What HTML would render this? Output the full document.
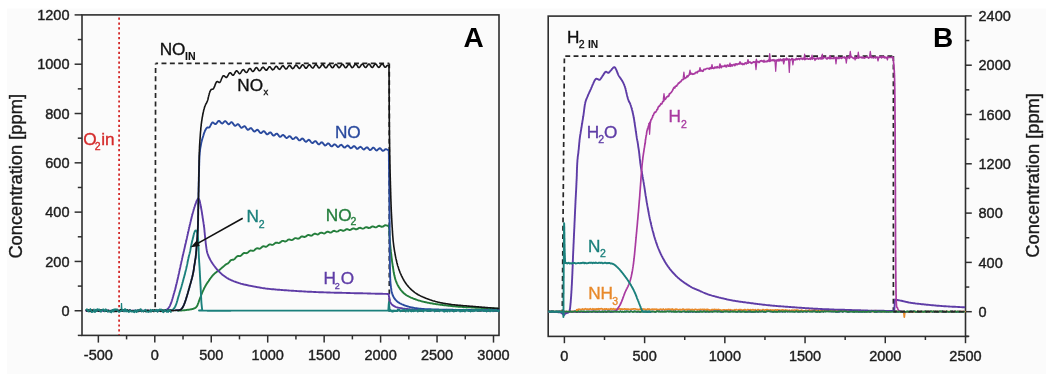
<!DOCTYPE html>
<html><head><meta charset="utf-8"><style>
html,body{margin:0;padding:0;background:#fff;}
svg{display:block;will-change:transform;}
text{font-family:"Liberation Sans",sans-serif;}
.tl{font-size:14.5px;fill:#1e1e1e;stroke:#1e1e1e;stroke-width:0.4px;}
.at{font-size:18.3px;fill:#1a1a1a;stroke:#1a1a1a;stroke-width:0.35px;}
.lb{font-size:16px;letter-spacing:1.2px;stroke-width:0.2px;}
.sub{font-size:10px;letter-spacing:0.2px;}
.sub2{font-size:11.5px;letter-spacing:0px;}
.big{font-size:28px;font-weight:bold;fill:#000;}
</style></head><body>
<svg width="1051" height="374" viewBox="0 0 1051 374">
<rect width="1051" height="374" fill="#ffffff"/>
<rect x="7" y="8.5" width="1039" height="366" fill="#fbfbfb"/>
<rect x="82" y="14.9" width="417" height="320.5" fill="none" stroke="#2e2e2e" stroke-width="1.6"/>
<line x1="77.8" y1="335.40" x2="82" y2="335.40" stroke="#2e2e2e" stroke-width="1.5"/>
<line x1="74.6" y1="310.75" x2="82" y2="310.75" stroke="#2e2e2e" stroke-width="1.5"/>
<text x="69.5" y="315.85" class="tl" text-anchor="end">0</text>
<line x1="77.8" y1="286.10" x2="82" y2="286.10" stroke="#2e2e2e" stroke-width="1.5"/>
<line x1="74.6" y1="261.44" x2="82" y2="261.44" stroke="#2e2e2e" stroke-width="1.5"/>
<text x="69.5" y="266.54" class="tl" text-anchor="end">200</text>
<line x1="77.8" y1="236.79" x2="82" y2="236.79" stroke="#2e2e2e" stroke-width="1.5"/>
<line x1="74.6" y1="212.13" x2="82" y2="212.13" stroke="#2e2e2e" stroke-width="1.5"/>
<text x="69.5" y="217.23" class="tl" text-anchor="end">400</text>
<line x1="77.8" y1="187.48" x2="82" y2="187.48" stroke="#2e2e2e" stroke-width="1.5"/>
<line x1="74.6" y1="162.83" x2="82" y2="162.83" stroke="#2e2e2e" stroke-width="1.5"/>
<text x="69.5" y="167.93" class="tl" text-anchor="end">600</text>
<line x1="77.8" y1="138.17" x2="82" y2="138.17" stroke="#2e2e2e" stroke-width="1.5"/>
<line x1="74.6" y1="113.52" x2="82" y2="113.52" stroke="#2e2e2e" stroke-width="1.5"/>
<text x="69.5" y="118.62" class="tl" text-anchor="end">800</text>
<line x1="77.8" y1="88.86" x2="82" y2="88.86" stroke="#2e2e2e" stroke-width="1.5"/>
<line x1="74.6" y1="64.21" x2="82" y2="64.21" stroke="#2e2e2e" stroke-width="1.5"/>
<text x="69.5" y="69.31" class="tl" text-anchor="end">1000</text>
<line x1="77.8" y1="39.56" x2="82" y2="39.56" stroke="#2e2e2e" stroke-width="1.5"/>
<line x1="74.6" y1="14.90" x2="82" y2="14.90" stroke="#2e2e2e" stroke-width="1.5"/>
<text x="69.5" y="20.00" class="tl" text-anchor="end">1200</text>
<line x1="98.35" y1="335.4" x2="98.35" y2="342.6" stroke="#2e2e2e" stroke-width="1.5"/>
<text x="98.35" y="360.2" class="tl" text-anchor="middle">-500</text>
<line x1="126.58" y1="335.4" x2="126.58" y2="339.4" stroke="#2e2e2e" stroke-width="1.5"/>
<line x1="154.80" y1="335.4" x2="154.80" y2="342.6" stroke="#2e2e2e" stroke-width="1.5"/>
<text x="154.80" y="360.2" class="tl" text-anchor="middle">0</text>
<line x1="183.03" y1="335.4" x2="183.03" y2="339.4" stroke="#2e2e2e" stroke-width="1.5"/>
<line x1="211.25" y1="335.4" x2="211.25" y2="342.6" stroke="#2e2e2e" stroke-width="1.5"/>
<text x="211.25" y="360.2" class="tl" text-anchor="middle">500</text>
<line x1="239.48" y1="335.4" x2="239.48" y2="339.4" stroke="#2e2e2e" stroke-width="1.5"/>
<line x1="267.70" y1="335.4" x2="267.70" y2="342.6" stroke="#2e2e2e" stroke-width="1.5"/>
<text x="267.70" y="360.2" class="tl" text-anchor="middle">1000</text>
<line x1="295.93" y1="335.4" x2="295.93" y2="339.4" stroke="#2e2e2e" stroke-width="1.5"/>
<line x1="324.15" y1="335.4" x2="324.15" y2="342.6" stroke="#2e2e2e" stroke-width="1.5"/>
<text x="324.15" y="360.2" class="tl" text-anchor="middle">1500</text>
<line x1="352.38" y1="335.4" x2="352.38" y2="339.4" stroke="#2e2e2e" stroke-width="1.5"/>
<line x1="380.60" y1="335.4" x2="380.60" y2="342.6" stroke="#2e2e2e" stroke-width="1.5"/>
<text x="380.60" y="360.2" class="tl" text-anchor="middle">2000</text>
<line x1="408.83" y1="335.4" x2="408.83" y2="339.4" stroke="#2e2e2e" stroke-width="1.5"/>
<line x1="437.05" y1="335.4" x2="437.05" y2="342.6" stroke="#2e2e2e" stroke-width="1.5"/>
<text x="437.05" y="360.2" class="tl" text-anchor="middle">2500</text>
<line x1="465.28" y1="335.4" x2="465.28" y2="339.4" stroke="#2e2e2e" stroke-width="1.5"/>
<line x1="493.50" y1="335.4" x2="493.50" y2="342.6" stroke="#2e2e2e" stroke-width="1.5"/>
<text x="493.50" y="360.2" class="tl" text-anchor="middle">3000</text>
<text transform="translate(21.8,176.3) rotate(-90)" class="at" text-anchor="middle">Concentration [ppm]</text>
<line x1="119.1" y1="17.6" x2="119.1" y2="335" stroke="#d42a2a" stroke-width="1.8" stroke-dasharray="2.2 2.67"/>
<path d="M121.2,310 L121.5,303 L121.9,310" fill="none" stroke="#1b807c" stroke-width="1.2"/>
<path d="M155.6,63.4 L155.2,310.8" fill="none" stroke="#262626" stroke-width="1.7" stroke-dasharray="4.95 3.42" stroke-dashoffset="3.8"/>
<path d="M155.6,63.4 H389.3" fill="none" stroke="#262626" stroke-width="1.7" stroke-dasharray="4.95 3.42" stroke-dashoffset="2.47"/>
<path d="M389.3,63.4 V310.8 H499" fill="none" stroke="#262626" stroke-width="1.7" stroke-dasharray="4.95 3.42"/>
<path d="M178.0,310.7L178.5,310.7 179.1,310.6 179.8,310.6 180.6,310.6 181.5,310.5 182.4,310.4 183.2,310.4 184.0,310.3 184.8,310.2 185.6,310.1 186.4,310.0 187.1,309.9 187.9,309.8 188.7,309.7 189.4,309.6 190.0,309.5 190.6,309.4 191.1,309.3 191.6,309.2 192.1,309.1 192.5,309.0 192.9,308.9 193.3,308.8 193.7,308.6 194.1,308.4 194.5,308.3 194.9,308.1 195.2,307.9 195.5,307.7 195.9,307.4 196.2,307.2 196.5,306.8 196.8,306.4 197.1,305.9 197.3,305.4 197.6,304.9 197.8,304.3 198.0,303.7 198.3,303.1 198.5,302.5 198.7,301.9 199.0,301.2 199.2,300.5 199.5,299.9 199.7,299.2 200.0,298.4 200.2,297.7 200.5,297.0 200.8,296.3 201.1,295.5 201.4,294.7 201.7,293.9 202.0,293.1 202.3,292.4 202.6,291.6 202.9,291.0 203.2,290.4 203.4,289.9 203.7,289.4 203.9,288.9 204.1,288.5 204.3,288.1 204.6,287.6 204.8,287.2 205.0,286.8 205.3,286.3 205.5,285.9 205.7,285.5 205.9,285.1 206.1,284.8 206.4,284.4 206.6,284.0 206.8,283.6 207.0,283.3 207.2,283.0 207.5,282.7 207.7,282.4 207.9,282.0 208.2,281.6 208.5,281.2 208.8,280.7 209.2,280.1 209.6,279.5 210.0,278.9 210.5,278.3 210.9,277.6 211.4,277.1 211.8,276.5 212.2,276.0 212.7,275.5 213.1,275.0 213.6,274.6 214.0,274.1 214.5,273.7 215.0,273.2 215.5,272.8 216.0,272.4 216.5,272.0 217.1,271.6 217.6,271.2 218.2,270.9 218.8,270.4 219.4,270.0 220.0,269.5 220.7,268.9 221.4,268.3 222.1,267.6 222.9,267.0 223.7,266.3 224.5,265.6 225.2,264.9 226.0,264.3 226.8,264.0 227.5,263.7 228.2,263.2 229.0,262.3 229.8,261.3 230.5,260.5 231.2,260.0 232.0,259.8 232.7,259.8 233.5,259.7 234.2,259.3 235.0,258.6 235.7,257.7 236.5,256.9 237.2,256.3 238.0,256.0 238.8,256.0 239.5,256.1 240.3,256.0 241.1,255.5 241.8,254.8 242.6,254.0 243.3,253.3 244.1,253.0 244.9,253.0 245.6,253.1 246.4,253.2 247.1,253.0 247.9,252.5 248.6,251.8 249.4,251.1 250.1,250.7 250.8,250.5 251.6,250.6 252.3,250.8 253.1,250.8 253.9,250.6 254.6,250.0 255.4,249.2 256.1,248.6 256.9,248.3 257.6,248.3 258.4,248.5 259.1,248.7 259.9,248.6 260.6,248.2 261.4,247.6 262.1,246.9 262.9,246.4 263.6,246.3 264.4,246.4 265.1,246.7 265.9,246.8 266.6,246.6 267.4,246.0 268.1,245.4 268.8,244.8 269.6,244.4 270.3,244.4 271.1,244.6 271.8,244.9 272.6,244.9 273.3,244.5 274.1,243.9 274.9,243.3 275.6,242.7 276.4,242.6 277.2,242.7 277.9,242.9 278.7,243.1 279.4,242.9 280.2,242.4 281.0,241.8 281.7,241.2 282.5,240.9 283.2,240.9 284.0,241.2 284.7,241.5 285.5,241.5 286.2,241.2 286.9,240.7 287.7,240.1 288.4,239.6 289.2,239.4 289.9,239.6 290.7,239.9 291.4,240.1 292.2,240.0 292.9,239.7 293.7,239.1 294.4,238.5 295.2,238.1 295.9,238.1 296.7,238.3 297.4,238.6 298.2,238.7 299.0,238.5 299.7,238.0 300.4,237.3 301.1,236.7 301.9,236.4 302.7,236.5 303.6,236.8 304.5,237.0 305.5,236.7 306.7,235.9 307.2,235.4 307.8,235.1 308.4,234.9 309.1,235.0 309.7,235.3 310.3,235.5 310.9,235.7 311.6,235.6 312.2,235.3 312.8,234.8 313.4,234.4 314.0,234.0 314.6,233.7 315.2,233.7 315.8,233.9 316.4,234.2 317.0,234.4 317.6,234.5 318.2,234.4 318.7,234.1 319.3,233.6 319.9,233.1 320.5,232.8 321.1,232.6 321.7,232.7 322.3,232.9 322.9,233.2 323.5,233.4 324.1,233.5 324.7,233.3 325.3,233.0 325.9,232.5 326.5,232.1 327.1,231.8 327.7,231.7 328.3,231.8 328.9,232.0 329.5,232.3 330.1,232.5 330.7,232.6 331.3,232.4 331.9,232.0 332.5,231.5 333.1,231.1 333.7,230.9 334.3,230.8 334.9,231.0 335.5,231.3 336.7,231.7 337.9,231.4 339.0,230.6 340.2,230.0 341.4,230.1 342.6,230.7 343.8,230.8 345.0,230.1 346.2,229.3 347.4,229.2 348.5,229.7 349.7,230.1 350.9,229.7 352.1,228.9 353.3,228.4 354.5,228.7 355.7,229.3 356.9,229.3 358.0,228.6 359.2,227.9 360.4,227.8 361.6,228.4 362.8,228.7 364.0,228.3 365.2,227.4 366.4,227.1 367.5,227.5 368.7,228.0 369.9,227.9 371.1,227.1 371.7,226.7 372.3,226.5 372.9,226.4 373.5,226.6 374.1,226.9 374.7,227.2 375.3,227.4 375.9,227.4 376.5,227.1 377.1,226.8 378.3,226.0 379.5,225.8 380.6,226.3 381.7,226.8 382.9,226.6 384.1,225.8 385.2,225.2 386.3,225.4 387.2,225.7 388.0,225.6 388.6,225.5 388.7,225.8 388.7,226.1 388.8,226.5 388.9,227.0 389.0,227.6 389.1,228.3 389.2,229.1 389.3,230.0 389.4,231.0 389.4,232.2 389.4,232.8 389.4,233.4 389.5,234.1 389.5,234.7 389.5,235.5 389.5,236.2 389.6,237.0 389.6,237.8 389.7,238.5 389.7,239.1 389.7,239.7 389.8,240.3 389.8,241.0 389.9,241.7 390.0,242.5 390.1,243.3 390.1,244.0 390.2,244.7 390.3,245.4 390.3,246.0 390.4,246.7 390.5,247.4 390.5,248.2 390.6,248.9 390.7,249.6 390.8,250.2 390.8,250.8 390.9,251.5 391.0,252.1 391.0,252.7 391.1,253.3 391.2,253.9 391.3,254.5 391.3,255.1 391.4,255.8 391.5,256.4 391.5,257.0 391.6,257.6 391.7,258.2 391.8,258.8 391.9,259.5 391.9,260.2 392.0,260.9 392.1,261.6 392.2,262.3 392.3,262.9 392.4,263.6 392.5,264.2 392.6,265.0 392.7,265.8 392.8,266.6 393.0,267.3 393.1,268.0 393.2,268.8 393.3,269.5 393.4,270.2 393.5,270.9 393.6,271.6 393.7,272.3 393.9,273.0 394.0,273.6 394.1,274.3 394.2,274.9 394.4,275.5 394.5,276.1 394.7,276.8 394.8,277.4 395.0,278.0 395.1,278.6 395.3,279.1 395.5,279.7 395.7,280.3 396.0,281.1 396.3,282.0 396.7,282.8 397.0,283.6 397.4,284.3 397.7,285.1 398.1,285.8 398.5,286.5 398.9,287.2 399.3,287.9 399.8,288.5 400.2,289.2 400.7,289.8 401.1,290.4 401.6,290.9 402.1,291.5 402.6,292.0 403.1,292.5 403.6,293.0 404.1,293.5 404.7,293.9 405.2,294.3 405.7,294.7 406.3,295.1 406.9,295.5 407.5,295.8 408.1,296.2 408.8,296.5 409.5,296.9 410.2,297.2 410.9,297.6 411.7,297.9 412.5,298.2 413.4,298.6 413.9,298.8 414.5,299.0 415.1,299.2 415.7,299.5 416.4,299.7 417.0,299.9 417.6,300.1 418.3,300.3 418.9,300.5 419.6,300.7 420.3,300.9 421.0,301.1 421.7,301.3 422.5,301.5 423.2,301.6 423.9,301.8 424.7,302.0 425.4,302.2 426.0,302.3 426.6,302.4 427.2,302.6 427.8,302.7 428.4,302.8 429.1,302.9 429.7,303.1 430.3,303.2 431.0,303.3 431.7,303.4 432.4,303.5 433.0,303.7 433.8,303.8 434.5,303.9 435.2,304.0 435.9,304.1 436.6,304.2 437.4,304.3 438.1,304.4 438.8,304.5 439.6,304.6 440.3,304.7 441.0,304.8 441.8,304.9 442.5,305.0 443.3,305.1 444.0,305.2 444.7,305.3 445.4,305.3 446.1,305.4 446.9,305.5 447.6,305.6 448.3,305.7 448.9,305.7 449.6,305.8 450.3,305.9 450.9,306.0 451.6,306.0 452.2,306.1 452.8,306.2 453.6,306.2 454.4,306.3 455.2,306.4 456.0,306.5 456.7,306.5 457.5,306.6 458.3,306.7 459.0,306.7 459.8,306.8 460.6,306.8 461.3,306.9 462.1,306.9 462.7,307.0 463.3,307.0 463.9,307.0 464.5,307.1 465.2,307.1 465.8,307.2 466.5,307.2 467.1,307.2 467.9,307.3 468.6,307.3 469.3,307.4 470.0,307.4 470.7,307.4 471.3,307.5 472.0,307.5 472.7,307.5 473.3,307.6 474.0,307.6 474.6,307.6 475.2,307.7 475.9,307.7 476.5,307.7 477.2,307.8 477.8,307.8 478.5,307.8 479.2,307.9 479.9,307.9 480.6,307.9 481.3,308.0 482.0,308.0 482.7,308.0 483.3,308.1 484.0,308.1 484.7,308.1 485.4,308.1 486.1,308.2 486.8,308.2 487.4,308.2 488.1,308.3 488.8,308.3 489.4,308.3 490.1,308.3 490.7,308.4 491.3,308.4 491.9,308.4 492.5,308.4 493.1,308.5 493.7,308.5 494.3,308.5 494.9,308.5 495.5,308.6 496.1,308.6 496.9,308.6 497.6,308.7 498.4,308.7" fill="none" stroke="#247e3c" stroke-width="1.90" stroke-linejoin="round" stroke-linecap="round" />
<path d="M86.2,310.8L86.9,310.8 87.5,310.8 88.2,310.8 88.8,310.8 89.5,310.8 90.2,310.8 90.8,310.8 91.5,310.8 92.1,310.8 92.7,310.8 93.3,310.8 93.9,310.8 94.5,310.8 95.2,310.8 95.8,310.8 96.4,310.8 97.0,310.8 97.6,310.8 98.2,310.8 98.9,310.8 99.5,310.8 100.1,310.8 100.7,310.8 101.4,310.8 102.0,310.8 102.6,310.8 103.3,310.8 103.9,310.8 104.5,310.8 105.2,310.8 105.8,310.8 106.4,310.8 107.1,310.8 107.7,310.8 108.3,310.8 108.9,310.8 109.5,310.8 110.1,310.8 110.7,310.8 111.3,310.8 111.9,310.8 112.5,310.8 113.1,310.8 113.7,310.8 114.3,310.8 114.9,310.8 115.5,310.8 116.1,310.8 116.7,310.8 117.3,310.8 117.9,310.8 118.5,310.8 119.1,310.8 119.7,310.8 120.3,310.8 120.9,310.8 121.5,310.8 122.1,310.8 122.7,310.8 123.4,310.8 124.0,310.8 124.6,310.8 125.2,310.8 125.8,310.8 126.4,310.8 127.0,310.8 127.6,310.8 128.2,310.8 128.8,310.8 129.4,310.8 130.0,310.8 130.6,310.8 131.3,310.8 131.9,310.8 132.5,310.8 133.1,310.8 133.7,310.8 134.3,310.8 134.9,310.8 135.5,310.8 136.1,310.8 136.7,310.8 137.3,310.8 137.9,310.8 138.6,310.8 139.2,310.8 139.8,310.8 140.4,310.8 141.0,310.8 141.6,310.8 142.2,310.8 142.8,310.8 143.4,310.8 144.0,310.8 144.7,310.8 145.3,310.8 146.0,310.8 146.7,310.8 147.3,310.8 148.0,310.8 148.7,310.8 149.3,310.8 150.0,310.8 150.7,310.8 151.4,310.8 152.1,310.8 152.7,310.8 153.4,310.8 154.1,310.8 154.9,310.8 155.6,310.8 156.3,310.8 157.0,310.8 157.7,310.8 158.4,310.8 159.0,310.8 159.7,310.8 160.3,310.8 161.1,310.8 161.6,310.8 162.2,310.8 163.0,310.7 163.9,310.6 164.5,310.6 165.0,310.5 165.3,310.4 165.5,310.3 165.8,310.1 166.0,310.0 166.3,309.8 166.7,309.6 167.0,309.4 167.3,309.2 167.6,309.0 167.9,308.7 168.2,308.4 168.5,308.0 168.8,307.6 169.1,307.1 169.4,306.7 169.7,306.2 170.0,305.6 170.2,305.0 170.5,304.3 170.9,303.5 171.2,302.6 171.6,301.5 171.8,300.9 172.0,300.3 172.2,299.6 172.4,299.0 172.6,298.3 172.8,297.6 173.0,296.9 173.2,296.1 173.4,295.4 173.6,294.7 173.8,294.0 174.0,293.3 174.2,292.7 174.4,292.0 174.6,291.4 174.7,290.8 174.9,290.2 175.1,289.6 175.4,288.4 175.7,287.3 175.9,286.2 176.2,285.0 176.4,284.4 176.5,283.8 176.7,283.2 176.8,282.6 177.0,282.0 177.1,281.3 177.2,280.7 177.4,280.0 177.6,279.4 177.7,278.7 177.9,278.1 178.0,277.4 178.2,276.7 178.3,276.1 178.4,275.4 178.6,274.7 178.8,274.0 178.9,273.4 179.1,272.7 179.2,272.0 179.3,271.3 179.5,270.7 179.6,270.0 179.8,269.3 179.9,268.7 180.1,268.0 180.2,267.3 180.4,266.7 180.5,266.0 180.6,265.3 180.8,264.6 181.0,263.9 181.1,263.2 181.3,262.5 181.4,261.7 181.6,261.0 181.8,260.2 182.0,259.4 182.1,258.6 182.3,257.8 182.5,256.9 182.7,256.1 182.9,255.2 183.1,254.3 183.3,253.5 183.5,252.6 183.7,251.7 183.9,250.9 184.1,250.0 184.3,249.2 184.5,248.4 184.7,247.6 184.9,246.8 185.0,246.1 185.2,245.3 185.4,244.6 185.5,243.9 185.7,243.2 185.9,242.5 186.0,241.8 186.2,241.1 186.3,240.4 186.5,239.7 186.7,239.0 186.8,238.3 187.0,237.5 187.1,236.8 187.3,236.1 187.5,235.4 187.6,234.6 187.8,233.9 188.0,233.1 188.1,232.4 188.3,231.6 188.5,230.9 188.7,230.1 188.8,229.3 189.0,228.6 189.2,227.8 189.3,227.1 189.5,226.4 189.7,225.6 189.8,224.9 190.0,224.2 190.2,223.5 190.3,222.8 190.5,222.1 190.7,221.4 190.8,220.7 191.0,220.1 191.1,219.4 191.3,218.7 191.5,218.1 191.6,217.4 191.8,216.8 191.9,216.1 192.1,215.5 192.3,214.8 192.4,214.2 192.6,213.6 192.8,213.0 192.9,212.4 193.1,211.8 193.3,211.1 193.5,210.5 193.6,209.9 193.8,209.3 194.0,208.7 194.3,207.6 194.7,206.5 195.0,205.5 195.3,204.6 195.6,203.8 195.9,203.0 196.1,202.3 196.4,201.7 196.6,201.1 196.9,200.6 197.1,200.2 197.3,199.8 197.5,199.5 197.6,199.2 197.8,199.0 197.9,198.9 198.0,198.8 198.1,198.8 198.3,198.8 198.4,198.8 198.5,198.8 198.7,198.9 198.8,199.0 199.0,199.1 199.1,199.3 199.3,199.6 199.4,200.0 199.6,200.6 199.8,201.4 200.0,202.3 200.2,203.5 200.4,204.1 200.5,204.7 200.6,205.3 200.7,205.9 200.8,206.6 201.0,207.2 201.1,207.8 201.2,208.4 201.4,209.6 201.6,210.7 201.8,211.8 202.0,212.9 202.1,214.0 202.3,215.1 202.5,216.2 202.6,217.3 202.8,218.4 203.0,219.5 203.1,220.5 203.3,221.6 203.5,222.6 203.6,223.7 203.8,224.8 203.9,226.0 204.0,226.6 204.1,227.2 204.2,227.9 204.3,228.5 204.3,229.2 204.4,229.9 204.5,230.7 204.5,231.4 204.6,232.2 204.7,232.9 204.8,233.7 204.8,234.5 204.9,235.2 205.0,236.0 205.1,236.8 205.1,237.5 205.2,238.3 205.3,239.0 205.4,239.7 205.5,240.5 205.6,241.3 205.6,242.0 205.7,242.8 205.8,243.6 205.9,244.3 206.0,245.1 206.1,245.8 206.2,246.6 206.3,247.3 206.4,248.0 206.5,248.7 206.6,249.3 206.7,249.9 206.8,250.5 207.0,251.5 207.2,252.5 207.5,253.3 207.7,254.0 208.0,254.7 208.2,255.4 208.5,256.1 208.8,256.8 209.1,257.5 209.5,258.3 209.9,259.0 210.2,259.7 210.6,260.4 211.0,261.1 211.4,261.8 211.8,262.4 212.2,263.0 212.5,263.5 212.9,264.0 213.2,264.5 213.6,265.0 213.9,265.5 214.3,266.0 214.7,266.5 215.1,267.0 215.5,267.6 216.0,268.2 216.4,268.7 216.9,269.3 217.4,269.9 217.9,270.4 218.4,271.0 219.0,271.6 219.6,272.1 220.2,272.7 220.8,273.3 221.5,273.9 222.1,274.4 222.8,275.0 223.5,275.5 224.2,276.0 224.9,276.5 225.6,277.0 226.3,277.5 227.0,278.0 227.8,278.4 228.6,278.9 229.4,279.3 230.3,279.7 231.1,280.1 232.1,280.5 233.0,280.9 234.0,281.3 234.9,281.6 235.9,282.0 236.8,282.3 237.7,282.6 238.5,282.9 239.2,283.2 240.0,283.4 240.8,283.7 241.8,283.9 242.8,284.2 243.5,284.3 244.1,284.5 244.9,284.7 245.6,284.8 246.5,285.0 247.3,285.2 248.0,285.3 248.6,285.5 249.2,285.6 249.9,285.7 250.5,285.9 251.2,286.0 251.9,286.1 252.5,286.2 253.2,286.4 253.9,286.5 254.5,286.6 255.2,286.7 255.8,286.9 256.5,287.0 257.1,287.1 257.9,287.2 258.8,287.4 259.5,287.5 260.3,287.7 260.9,287.8 261.5,287.9 262.7,288.1 263.8,288.3 264.4,288.3 265.0,288.4 265.6,288.5 266.3,288.6 267.2,288.7 268.0,288.8 268.7,288.9 269.3,288.9 270.0,289.0 270.6,289.1 271.2,289.1 271.8,289.2 272.4,289.2 273.1,289.3 273.8,289.3 274.5,289.4 275.2,289.5 275.8,289.5 276.4,289.6 277.1,289.6 277.7,289.7 278.3,289.7 278.9,289.8 279.6,289.8 280.2,289.9 280.9,289.9 281.5,290.0 282.2,290.0 282.8,290.1 283.5,290.1 284.2,290.2 284.8,290.2 285.5,290.3 286.2,290.3 286.9,290.4 287.5,290.4 288.2,290.5 288.9,290.5 289.5,290.6 290.2,290.6 290.9,290.6 291.5,290.7 292.2,290.7 292.8,290.8 293.4,290.8 294.1,290.9 294.7,290.9 295.3,290.9 295.9,291.0 296.6,291.0 297.2,291.1 297.8,291.1 298.4,291.1 299.0,291.2 299.7,291.2 300.3,291.2 300.9,291.3 301.5,291.3 302.1,291.4 302.8,291.4 303.4,291.4 304.0,291.5 304.6,291.5 305.2,291.5 305.9,291.6 306.5,291.6 307.1,291.6 307.7,291.7 308.3,291.7 309.0,291.7 309.6,291.8 310.2,291.8 310.8,291.8 311.4,291.8 312.1,291.9 312.7,291.9 313.3,291.9 313.9,292.0 314.5,292.0 315.2,292.0 315.8,292.0 316.4,292.1 317.0,292.1 317.6,292.1 318.3,292.1 318.9,292.2 319.5,292.2 320.1,292.2 320.7,292.2 321.4,292.3 322.0,292.3 322.6,292.3 323.2,292.3 323.8,292.4 324.4,292.4 325.1,292.4 325.7,292.4 326.3,292.4 326.9,292.5 327.5,292.5 328.1,292.5 328.8,292.5 329.4,292.5 330.0,292.5 330.6,292.6 331.2,292.6 331.8,292.6 332.5,292.6 333.1,292.6 333.7,292.6 334.3,292.7 334.9,292.7 335.6,292.7 336.2,292.7 336.8,292.7 337.4,292.7 338.0,292.7 338.6,292.8 339.3,292.8 339.9,292.8 340.5,292.8 341.1,292.8 341.7,292.8 342.3,292.9 343.0,292.9 343.6,292.9 344.2,292.9 344.8,292.9 345.5,292.9 346.1,292.9 346.7,293.0 347.3,293.0 348.0,293.0 348.6,293.0 349.2,293.0 349.9,293.0 350.5,293.1 351.2,293.1 351.8,293.1 352.4,293.1 353.1,293.1 353.7,293.1 354.4,293.2 355.0,293.2 355.6,293.2 356.3,293.2 356.9,293.2 357.6,293.2 358.2,293.2 358.8,293.3 359.4,293.3 360.1,293.3 360.7,293.3 361.3,293.3 361.9,293.3 362.5,293.3 363.2,293.4 363.9,293.4 364.7,293.4 365.4,293.4 366.1,293.4 366.9,293.4 367.6,293.5 368.3,293.5 369.0,293.5 369.7,293.5 370.4,293.5 371.1,293.6 371.8,293.6 372.6,293.6 373.3,293.6 374.0,293.6 374.7,293.6 375.4,293.7 376.2,293.7 376.9,293.7 377.6,293.7 378.3,293.7 379.0,293.8 379.7,293.8 380.4,293.8 381.0,293.8 381.6,293.8 382.3,293.8 382.9,293.9 383.7,293.9 384.4,293.9 385.2,293.9 385.8,293.9 386.5,293.9 387.1,294.0 387.9,294.0 388.6,294.0 388.7,294.3 388.7,294.8 388.8,295.3 388.9,295.9 389.0,296.6 389.2,297.2 389.3,297.8 389.4,298.4 389.5,299.0 389.6,299.5 389.7,300.1 389.9,300.7 390.0,301.2 390.2,301.8 390.4,302.3 390.6,302.8 390.9,303.3 391.2,303.7 391.5,304.1 391.9,304.5 392.3,304.9 392.8,305.2 393.2,305.6 393.7,305.9 394.2,306.2 394.6,306.4 395.1,306.7 395.6,306.9 396.2,307.1 396.9,307.3 397.7,307.5 398.6,307.7 399.7,307.9 400.8,308.1 401.4,308.2 402.0,308.3 402.7,308.5 403.4,308.6 404.1,308.7 404.8,308.8 405.6,308.9 406.4,309.0 407.3,309.0 408.1,309.1 408.7,309.2 409.4,309.2 410.0,309.3 410.9,309.4 411.8,309.5 412.5,309.5 413.2,309.6 414.0,309.7 414.7,309.7 415.6,309.8 416.4,309.8 417.1,309.9 417.8,309.9 418.5,309.9 419.2,310.0 419.9,310.0 420.6,310.0 421.4,310.0 422.0,310.0 422.6,310.1 423.2,310.1 423.8,310.1 424.5,310.1 425.1,310.1 425.7,310.1 426.3,310.1 426.9,310.2 427.5,310.2 428.2,310.2 428.8,310.2 429.4,310.2 430.0,310.2 430.6,310.2 431.2,310.2 431.8,310.2 432.5,310.2 433.1,310.2 433.7,310.2 434.3,310.2 434.9,310.2 435.5,310.3 436.1,310.3 436.8,310.3 437.4,310.3 438.0,310.3 438.6,310.3 439.2,310.3 439.8,310.3 440.5,310.3 441.1,310.3 441.7,310.3 442.3,310.3 442.9,310.3 443.6,310.3 444.2,310.3 444.8,310.3 445.4,310.3 446.0,310.3 446.7,310.3 447.3,310.3 447.9,310.3 448.5,310.3 449.1,310.3 449.8,310.3 450.4,310.3 451.0,310.3 451.6,310.4 452.2,310.4 452.8,310.4 453.5,310.4 454.1,310.4 454.7,310.4 455.3,310.4 455.9,310.4 456.5,310.4 457.2,310.4 457.8,310.4 458.4,310.4 459.0,310.4 459.6,310.4 460.2,310.4 460.8,310.4 461.5,310.4 462.1,310.4 462.7,310.4 463.3,310.4 463.9,310.4 464.5,310.4 465.1,310.4 465.8,310.4 466.4,310.4 467.0,310.4 467.6,310.4 468.2,310.4 468.8,310.4 469.4,310.4 470.0,310.4 470.6,310.4 471.2,310.4 471.8,310.4 472.4,310.4 473.0,310.4 473.6,310.4 474.2,310.4 474.8,310.4 475.4,310.4 476.0,310.4 476.7,310.4 477.3,310.4 477.9,310.4 478.5,310.4 479.2,310.4 479.8,310.4 480.4,310.4 481.1,310.4 481.7,310.5 482.3,310.5 482.9,310.5 483.6,310.5 484.2,310.5 484.8,310.5 485.5,310.5 486.1,310.5 486.7,310.5 487.3,310.5 487.9,310.5 488.5,310.5 489.1,310.5 489.7,310.5 490.3,310.5 490.9,310.5 491.5,310.5 492.1,310.5 492.7,310.5 493.3,310.5 494.0,310.5 494.6,310.5 495.2,310.5 495.9,310.5 496.5,310.5 497.1,310.5 497.7,310.5 498.4,310.5 499.0,310.5" fill="none" stroke="#5e3ca6" stroke-width="1.90" stroke-linejoin="round" stroke-linecap="round" />
<path d="M176.0,310.3L176.4,310.3 176.9,310.2 177.5,310.2 178.2,310.2 178.9,310.1 179.6,310.0 180.2,309.8 180.8,309.5 181.3,309.1 181.7,308.7 182.1,308.2 182.5,307.7 182.9,307.0 183.2,306.3 183.6,305.6 184.0,304.7 184.4,303.7 184.8,302.7 185.0,302.1 185.2,301.5 185.4,300.9 185.6,300.3 185.8,299.7 186.0,299.0 186.2,298.4 186.4,297.7 186.6,297.1 186.8,296.4 187.0,295.8 187.2,295.1 187.4,294.4 187.6,293.8 187.8,293.1 188.0,292.4 188.2,291.6 188.4,290.9 188.6,290.2 188.8,289.4 189.0,288.7 189.3,288.0 189.5,287.3 189.6,286.5 189.8,285.8 190.0,285.1 190.2,284.5 190.4,283.8 190.6,283.2 190.8,282.5 190.9,281.9 191.1,281.3 191.3,280.7 191.4,280.1 191.6,279.5 191.8,278.9 191.9,278.3 192.1,277.7 192.2,277.1 192.4,276.6 192.5,276.0 192.6,275.4 192.8,274.8 192.9,274.2 193.0,273.6 193.1,273.0 193.3,272.4 193.4,271.8 193.5,271.2 193.6,270.6 193.7,270.0 193.8,269.4 193.9,268.8 194.0,268.2 194.0,267.6 194.1,267.0 194.2,266.4 194.3,265.8 194.4,265.2 194.5,264.6 194.7,263.4 194.9,262.3 195.0,261.2 195.2,260.1 195.4,259.0 195.5,258.4 195.6,257.8 195.7,257.1 195.7,256.5 195.8,255.7 195.9,255.0 196.0,254.2 196.1,253.4 196.1,252.5 196.2,251.6 196.3,250.9 196.3,250.3 196.4,249.7 196.4,249.0 196.5,248.4 196.5,247.7 196.6,247.0 196.6,246.4 196.7,245.7 196.7,245.0 196.8,244.4 196.8,243.7 196.9,243.1 196.9,242.4 197.0,241.8 197.0,241.2 197.1,240.6 197.1,240.0 197.2,239.2 197.2,238.4 197.3,237.7 197.3,237.0 197.4,236.3 197.4,235.7 197.5,235.0 197.5,234.4 197.6,233.7 197.6,233.0 197.7,232.2 197.7,231.4 197.8,230.7 197.8,230.1 197.8,229.5 197.8,228.7 197.9,228.0 197.9,227.2 197.9,226.5 197.9,225.8 198.0,225.2 198.0,224.5 198.0,223.9 198.0,223.2 198.0,222.6 198.0,222.0 198.0,221.4 198.1,220.7 198.1,220.0 198.1,219.3 198.1,218.6 198.1,218.0 198.1,217.2 198.1,216.5 198.1,215.8 198.2,215.1 198.2,214.4 198.2,213.7 198.2,213.1 198.2,212.5 198.2,211.9 198.2,211.3 198.2,210.7 198.2,210.1 198.2,209.4 198.3,208.8 198.3,208.2 198.3,207.6 198.3,207.0 198.3,206.3 198.3,205.5 198.3,204.8 198.3,204.1 198.3,203.4 198.4,202.7 198.4,202.0 198.4,201.4 198.4,200.7 198.4,200.0 198.4,199.3 198.4,198.7 198.4,198.0 198.4,197.4 198.5,196.7 198.5,196.1 198.5,195.4 198.5,194.8 198.5,194.1 198.5,193.5 198.5,192.8 198.5,192.2 198.6,191.5 198.6,190.9 198.6,190.2 198.6,189.6 198.6,189.0 198.6,188.3 198.6,187.7 198.6,187.1 198.6,186.4 198.7,185.8 198.7,185.2 198.7,184.5 198.7,183.9 198.7,183.3 198.7,182.7 198.7,182.1 198.7,181.5 198.8,180.8 198.8,180.1 198.8,179.4 198.8,178.6 198.8,177.9 198.8,177.2 198.9,176.4 198.9,175.7 198.9,175.0 198.9,174.3 198.9,173.6 199.0,172.9 199.0,172.2 199.0,171.5 199.0,170.8 199.0,170.1 199.0,169.4 199.1,168.8 199.1,168.1 199.1,167.4 199.1,166.7 199.1,166.1 199.2,165.4 199.2,164.8 199.2,164.1 199.2,163.5 199.2,162.8 199.3,162.2 199.3,161.6 199.3,160.8 199.3,160.0 199.4,159.2 199.4,158.5 199.4,157.8 199.5,157.0 199.5,156.3 199.6,155.7 199.6,155.0 199.7,154.1 199.7,153.2 199.8,152.4 199.9,151.6 200.0,150.9 200.0,150.2 200.1,149.6 200.2,148.9 200.4,147.7 200.6,146.6 200.8,145.5 201.0,144.4 201.2,143.3 201.4,142.3 201.7,141.3 201.9,140.3 202.2,139.4 202.4,138.5 202.7,137.6 203.0,136.7 203.3,135.8 203.6,134.8 203.9,133.8 204.2,132.8 204.6,131.9 204.9,131.0 205.3,130.2 205.7,129.5 206.1,128.8 206.6,128.1 207.1,127.6 207.5,127.4 208.0,127.5 208.5,127.6 209.0,127.6 209.5,127.2 209.9,126.6 210.3,125.9 210.7,125.1 211.1,124.3 211.5,123.5 212.0,122.9 212.4,122.5 213.0,122.5 213.6,122.9 214.3,123.5 215.0,124.0 215.8,124.0 216.6,123.3 217.4,122.2 218.2,121.2 219.0,120.9 219.8,121.4 220.6,122.3 221.4,123.2 222.3,123.5 223.1,122.9 224.0,121.9 224.8,121.2 225.7,121.3 226.6,122.2 227.5,123.4 228.4,124.2 229.3,124.0 230.2,123.1 231.1,122.3 232.0,122.3 232.8,123.2 233.6,124.4 234.4,125.4 235.2,125.8 235.9,125.5 236.7,124.9 237.4,124.3 238.2,124.2 239.0,124.9 239.8,126.1 240.7,127.3 241.5,127.9 242.4,127.5 243.2,126.8 244.1,126.2 244.9,126.3 245.7,127.2 246.4,128.3 247.1,129.2 247.7,129.7 248.3,129.8 249.0,129.4 249.7,128.7 250.5,128.1 251.4,128.3 252.4,129.5 253.6,131.1 254.2,131.5 254.8,131.5 255.4,131.1 256.1,130.4 256.7,129.9 257.4,129.7 258.1,130.1 258.8,131.0 259.5,132.1 260.3,132.9 261.0,133.1 261.8,132.6 262.6,131.8 263.4,131.2 264.0,131.2 264.6,131.6 265.2,132.3 265.8,133.2 266.5,134.0 267.1,134.4 267.7,134.3 268.4,133.8 269.0,133.1 269.6,132.6 270.3,132.4 270.9,132.7 271.5,133.4 272.2,134.3 272.8,135.1 273.6,135.6 274.5,135.3 275.3,134.5 276.1,133.8 276.8,133.6 277.5,134.1 278.2,134.9 278.8,135.8 279.4,136.5 280.0,136.9 281.2,136.3 282.3,135.2 283.3,134.9 284.5,135.9 285.6,137.5 286.8,138.1 288.0,137.2 289.1,136.1 290.3,136.4 291.5,137.9 292.6,139.1 293.8,138.9 295.0,137.7 295.6,137.3 296.2,137.2 296.8,137.6 297.4,138.3 298.0,139.2 298.6,139.9 299.1,140.4 299.7,140.4 300.3,140.1 300.9,139.5 301.5,138.9 302.1,138.5 302.7,138.6 303.3,139.0 303.9,139.7 304.5,140.6 305.1,141.3 305.7,141.7 306.3,141.7 306.9,141.3 307.5,140.7 308.1,140.1 308.7,139.8 309.2,139.9 309.8,140.4 310.4,141.2 311.0,142.0 311.6,142.7 312.2,143.0 312.8,143.0 313.4,142.5 314.0,141.9 314.6,141.3 315.2,141.1 315.8,141.2 316.4,141.8 317.0,142.6 317.6,143.4 318.2,144.1 318.7,144.3 319.3,144.2 319.9,143.7 320.5,143.1 321.1,142.5 321.7,142.3 322.3,142.5 322.9,143.1 323.5,143.9 324.1,144.7 324.7,145.3 325.3,145.5 325.9,145.2 326.5,144.7 327.1,144.0 327.7,143.5 328.3,143.4 328.9,143.6 329.5,144.3 330.1,145.1 330.7,145.9 331.3,146.3 331.9,146.4 332.5,146.0 333.1,145.4 333.7,144.7 334.3,144.3 335.5,144.6 336.7,146.0 337.9,147.1 339.0,146.5 340.2,145.2 341.4,144.8 342.6,145.9 343.8,147.4 345.0,147.5 346.2,146.4 347.4,145.4 348.5,145.9 349.7,147.4 350.9,148.3 352.1,147.6 353.3,146.3 354.5,146.1 355.7,147.4 356.9,148.8 358.0,148.7 359.2,147.5 360.4,146.7 361.6,147.5 362.8,149.0 364.0,149.6 365.2,148.6 366.4,147.4 367.5,147.5 368.7,148.8 369.9,150.0 371.1,149.6 372.3,148.3 372.9,147.8 373.5,147.7 374.1,148.0 374.7,148.7 375.3,149.5 375.9,150.2 376.5,150.5 377.1,150.4 378.3,149.2 379.5,148.2 380.6,148.5 381.7,149.9 382.9,150.9 384.1,150.4 385.3,149.1 386.4,149.2 387.4,149.8 388.2,150.0 388.8,150.0 388.8,150.6 388.8,151.3 388.8,151.9 388.8,152.5 388.8,153.1 388.8,153.8 388.9,154.4 388.9,155.0 388.9,155.6 388.9,156.2 388.9,156.8 388.9,157.4 388.9,158.0 388.9,158.7 388.9,159.3 388.9,159.9 388.9,160.6 388.9,161.2 389.0,161.9 389.0,162.5 389.0,163.2 389.0,163.8 389.0,164.5 389.0,165.1 389.0,165.8 389.0,166.4 389.0,167.1 389.0,167.7 389.0,168.4 389.0,169.0 389.1,169.7 389.1,170.3 389.1,171.0 389.1,171.6 389.1,172.3 389.1,172.9 389.1,173.5 389.1,174.2 389.1,174.8 389.1,175.5 389.1,176.1 389.1,176.7 389.1,177.4 389.2,178.0 389.2,178.6 389.2,179.2 389.2,179.8 389.2,180.5 389.2,181.1 389.2,181.7 389.2,182.3 389.2,182.9 389.2,183.5 389.2,184.1 389.2,184.7 389.2,185.3 389.2,185.9 389.3,186.6 389.3,187.2 389.3,187.8 389.3,188.4 389.3,189.0 389.3,189.6 389.3,190.3 389.3,190.9 389.3,191.5 389.3,192.1 389.3,192.7 389.3,193.3 389.3,193.9 389.3,194.5 389.4,195.2 389.4,195.8 389.4,196.4 389.4,197.0 389.4,197.6 389.4,198.2 389.4,198.8 389.4,199.4 389.4,200.0 389.4,200.6 389.4,201.3 389.4,201.9 389.4,202.5 389.4,203.2 389.4,203.8 389.4,204.5 389.4,205.1 389.4,205.7 389.5,206.4 389.5,207.0 389.5,207.6 389.5,208.3 389.5,208.9 389.5,209.6 389.5,210.2 389.5,210.9 389.5,211.5 389.5,212.2 389.5,212.8 389.5,213.4 389.5,214.1 389.5,214.7 389.5,215.4 389.5,216.0 389.5,216.7 389.5,217.3 389.5,217.9 389.5,218.6 389.5,219.2 389.5,219.8 389.5,220.4 389.6,221.1 389.6,221.7 389.6,222.3 389.6,223.0 389.6,223.6 389.6,224.2 389.6,224.9 389.6,225.5 389.6,226.1 389.6,226.8 389.6,227.4 389.6,228.1 389.6,228.7 389.6,229.3 389.6,230.0 389.6,230.6 389.6,231.3 389.6,231.9 389.6,232.5 389.6,233.2 389.6,233.8 389.6,234.4 389.6,235.1 389.6,235.7 389.6,236.3 389.6,236.9 389.6,237.6 389.7,238.2 389.7,238.8 389.7,239.4 389.7,240.1 389.7,240.7 389.7,241.3 389.7,241.9 389.7,242.6 389.7,243.2 389.7,243.8 389.7,244.4 389.7,245.1 389.7,245.7 389.7,246.3 389.7,247.0 389.7,247.6 389.7,248.2 389.7,248.9 389.7,249.5 389.7,250.1 389.7,250.7 389.7,251.4 389.8,252.0 389.8,252.6 389.8,253.2 389.8,253.8 389.8,254.4 389.8,255.0 389.8,255.6 389.8,256.2 389.8,256.9 389.8,257.5 389.8,258.1 389.8,258.7 389.8,259.3 389.8,259.9 389.8,260.5 389.9,261.1 389.9,261.7 389.9,262.4 389.9,263.0 389.9,263.6 389.9,264.2 389.9,264.8 389.9,265.4 389.9,266.0 389.9,266.6 390.0,267.3 390.0,267.9 390.0,268.5 390.0,269.1 390.0,269.7 390.0,270.4 390.0,271.1 390.0,271.7 390.1,272.4 390.1,273.0 390.1,273.7 390.1,274.3 390.1,274.9 390.1,275.6 390.1,276.2 390.2,276.8 390.2,277.5 390.2,278.1 390.2,278.8 390.3,279.5 390.3,280.2 390.3,280.9 390.4,281.6 390.4,282.2 390.5,282.8 390.5,283.5 390.6,284.1 390.7,284.7 390.7,285.4 390.8,286.0 390.9,286.7 391.0,287.4 391.1,288.0 391.2,288.7 391.3,289.5 391.4,290.4 391.6,291.2 391.7,291.9 391.9,292.6 392.1,293.3 392.3,293.9 392.5,294.5 392.7,295.1 392.9,295.7 393.2,296.3 393.5,296.8 393.8,297.4 394.1,297.9 394.5,298.4 394.8,298.9 395.2,299.4 395.6,299.9 396.4,300.7 397.3,301.5 397.8,301.9 398.3,302.3 398.9,302.6 399.4,303.0 400.0,303.3 400.7,303.6 401.4,304.0 402.1,304.3 402.9,304.6 403.6,305.0 404.4,305.3 405.2,305.6 406.0,305.9 406.8,306.2 407.4,306.3 408.0,306.5 408.6,306.7 409.3,306.9 410.0,307.1 410.6,307.2 411.4,307.4 412.1,307.5 412.9,307.7 413.5,307.8 414.1,307.9 414.7,308.0 415.4,308.1 416.1,308.2 416.8,308.3 417.5,308.4 418.2,308.5 418.8,308.6 419.5,308.6 420.1,308.7 420.7,308.7 421.3,308.8 422.0,308.9 422.7,308.9 423.4,309.0 424.0,309.0 424.7,309.1 425.3,309.1 425.9,309.1 426.5,309.1 427.1,309.2 427.7,309.2 428.3,309.2 429.0,309.3 429.6,309.3 430.3,309.3 430.9,309.3 431.6,309.4 432.2,309.4 432.9,309.4 433.6,309.4 434.3,309.4 435.0,309.5 435.7,309.5 436.3,309.5 437.0,309.5 437.6,309.5 438.2,309.5 438.9,309.6 439.5,309.6 440.1,309.6 440.7,309.6 441.4,309.6 442.1,309.6 442.7,309.6 443.4,309.7 444.1,309.7 444.7,309.7 445.4,309.7 446.0,309.7 446.6,309.7 447.2,309.7 447.8,309.8 448.5,309.8 449.1,309.8 449.7,309.8 450.3,309.8 450.9,309.8 451.6,309.8 452.2,309.8 452.8,309.8 453.4,309.9 454.1,309.9 454.7,309.9 455.3,309.9 455.9,309.9 456.6,309.9 457.2,309.9 457.9,309.9 458.5,309.9 459.2,309.9 459.8,309.9 460.5,309.9 461.1,310.0 461.8,310.0 462.4,310.0 463.1,310.0 463.7,310.0 464.4,310.0 465.0,310.0 465.6,310.0 466.3,310.0 466.9,310.0 467.6,310.0 468.2,310.0 468.8,310.0 469.5,310.0 470.1,310.0 470.8,310.0 471.4,310.0 472.1,310.1 472.7,310.1 473.4,310.1 474.0,310.1 474.7,310.1 475.4,310.1 476.0,310.1 476.7,310.1 477.3,310.1 477.9,310.1 478.5,310.1 479.2,310.1 479.8,310.1 480.4,310.1 481.1,310.1 481.7,310.1 482.3,310.1 482.9,310.1 483.6,310.1 484.2,310.1 484.8,310.1 485.5,310.1 486.1,310.1 486.7,310.1 487.3,310.1 488.0,310.1 488.6,310.1 489.2,310.1 489.9,310.1 490.5,310.2 491.2,310.2 491.8,310.2 492.5,310.2 493.2,310.2 493.8,310.2 494.5,310.2 495.1,310.2 495.8,310.2 496.4,310.2 497.1,310.2 497.7,310.2 498.4,310.2 499.0,310.2" fill="none" stroke="#2a4a9e" stroke-width="1.90" stroke-linejoin="round" stroke-linecap="round" />
<path d="M160.0,310.5L160.8,310.5 162.0,310.5 162.7,310.5 163.3,310.5 164.1,310.5 164.8,310.5 165.6,310.5 166.4,310.5 167.1,310.5 167.8,310.5 168.4,310.4 169.0,310.4 170.0,310.4 170.7,310.4 171.2,310.3 171.5,310.3 171.8,310.2 172.0,310.1 172.1,310.0 172.3,309.9 172.5,309.8 172.8,309.7 173.0,309.5 173.2,309.4 173.4,309.2 173.6,309.0 173.8,308.8 174.0,308.5 174.2,308.2 174.4,307.9 174.6,307.6 174.8,307.2 175.1,306.8 175.3,306.4 175.5,305.9 175.7,305.4 176.0,304.7 176.3,303.9 176.6,303.0 176.9,302.0 177.2,301.0 177.5,299.9 177.8,298.8 178.1,297.7 178.4,296.7 178.7,295.7 179.0,294.8 179.3,293.8 179.6,292.9 179.8,291.9 180.1,290.9 180.5,289.9 180.6,289.3 180.8,288.7 181.0,288.1 181.2,287.4 181.4,286.8 181.6,286.1 181.8,285.3 182.0,284.6 182.2,283.9 182.4,283.1 182.6,282.4 182.8,281.7 183.0,280.9 183.2,280.2 183.4,279.5 183.6,278.8 183.8,278.1 184.0,277.4 184.2,276.8 184.3,276.1 184.5,275.5 184.7,274.9 184.8,274.3 185.0,273.8 185.2,272.6 185.5,271.4 185.7,270.9 185.8,270.3 186.0,269.7 186.1,269.1 186.3,268.4 186.4,267.8 186.6,267.1 186.7,266.4 186.9,265.7 187.0,264.9 187.2,264.2 187.4,263.4 187.5,262.6 187.7,261.8 187.8,261.1 188.0,260.3 188.1,259.6 188.3,258.9 188.4,258.2 188.6,257.6 188.8,256.5 189.0,255.6 189.2,255.0 189.3,254.5 189.4,254.0 189.6,253.6 189.7,253.2 189.8,252.6 190.0,251.9 190.2,251.0 190.4,249.9 190.6,248.8 190.7,248.2 190.8,247.6 190.9,247.0 191.1,246.4 191.3,245.2 191.5,244.1 191.7,243.1 191.9,242.2 192.1,241.3 192.3,240.5 192.5,239.8 192.7,239.0 192.9,238.3 193.0,237.7 193.2,237.0 193.4,236.4 193.5,235.7 193.6,235.1 193.8,234.5 193.9,234.0 194.0,233.5 194.2,233.0 194.3,232.6 194.4,232.2 194.6,231.9 194.7,231.6 194.9,231.3 195.0,231.0 195.2,230.9 195.3,230.7 195.5,230.6 195.7,230.5 195.8,230.5 196.0,230.5 196.1,230.6 196.3,230.7 196.4,230.9 196.6,231.1 196.7,231.3 196.8,231.6 197.0,231.9 197.1,232.2 197.2,232.6 197.3,233.1 197.4,233.6 197.5,234.2 197.6,234.8 197.7,235.5 197.8,236.2 197.9,237.0 198.0,237.8 198.1,238.7 198.1,239.7 198.2,240.8 198.3,241.4 198.3,242.0 198.3,242.7 198.4,243.3 198.4,244.0 198.4,244.7 198.5,245.5 198.5,246.3 198.5,247.1 198.5,247.9 198.6,248.7 198.6,249.6 198.6,250.5 198.6,251.3 198.7,251.9 198.7,252.5 198.7,253.1 198.7,253.8 198.8,254.4 198.8,255.0 198.8,255.6 198.9,256.3 198.9,256.9 198.9,257.6 199.0,258.3 199.0,259.0 199.1,259.7 199.1,260.5 199.1,261.2 199.2,261.9 199.2,262.6 199.3,263.4 199.3,264.1 199.4,264.9 199.4,265.6 199.5,266.3 199.5,267.1 199.6,267.8 199.6,268.5 199.6,269.2 199.7,269.9 199.7,270.6 199.8,271.3 199.8,272.0 199.8,272.7 199.9,273.3 199.9,274.0 199.9,274.6 200.0,275.3 200.0,275.9 200.0,276.5 200.1,277.1 200.1,277.8 200.1,278.4 200.2,279.0 200.2,279.6 200.2,280.2 200.3,280.9 200.3,281.5 200.3,282.1 200.4,282.7 200.4,283.3 200.4,283.9 200.5,284.5 200.5,285.1 200.5,285.8 200.6,286.4 200.6,287.0 200.6,287.6 200.7,288.3 200.7,288.9 200.7,289.6 200.8,290.3 200.8,290.9 200.8,291.6 200.9,292.3 200.9,293.0 200.9,293.6 201.0,294.3 201.0,295.0 201.0,295.6 201.1,296.3 201.1,296.9 201.1,297.5 201.2,298.2 201.2,298.8 201.2,299.6 201.3,300.5 201.3,301.2 201.4,302.0 201.4,302.7 201.5,303.3 201.5,303.9 201.6,304.6 201.7,305.6 201.8,306.6 201.9,307.5 202.0,308.3 202.1,308.9 202.2,309.5 202.0,310.0 201.2,310.3 200.3,310.4 199.4,310.5 199.0,310.5 199.4,310.6 200.1,310.6 200.8,310.6 201.5,310.6 202.2,310.6 202.9,310.6 203.6,310.6 204.3,310.6 204.9,310.6 205.6,310.6 206.2,310.6 206.9,310.6 207.5,310.7 208.2,310.7 208.8,310.7 209.5,310.7 210.2,310.7 210.8,310.7 211.5,310.7 212.1,310.7 212.7,310.7 213.4,310.7 214.0,310.7 214.6,310.7 215.2,310.7 215.8,310.7 216.4,310.7 217.0,310.7 217.6,310.7 218.2,310.7 218.8,310.7 219.5,310.7 220.1,310.7 220.7,310.7 221.3,310.7 222.0,310.7 222.6,310.7 223.2,310.7 223.9,310.7 224.5,310.7 225.1,310.7 225.7,310.7 226.3,310.7 226.9,310.7 227.5,310.7 228.1,310.7 228.7,310.7 229.3,310.7 230.0,310.7 230.6,310.7 231.2,310.6 231.8,310.6 232.5,310.6 233.1,310.6 233.7,310.6 234.4,310.6 235.0,310.6 235.7,310.6 236.3,310.6 237.0,310.6 237.6,310.6 238.3,310.6 238.9,310.6 239.6,310.6 240.2,310.6 240.8,310.6 241.5,310.6 242.1,310.6 242.7,310.6 243.4,310.6 244.0,310.6 244.7,310.6 245.3,310.6 245.9,310.6 246.6,310.6 247.2,310.6 247.9,310.6 248.5,310.6 249.1,310.6 249.7,310.6 250.3,310.6 250.9,310.6 251.5,310.6 252.2,310.6 252.8,310.6 253.4,310.6 254.0,310.6 254.6,310.6 255.2,310.6 255.8,310.6 256.4,310.6 257.0,310.6 257.6,310.6 258.2,310.6 258.8,310.6 259.4,310.6 260.0,310.6 260.6,310.6 261.2,310.6 261.8,310.6 262.4,310.6 263.1,310.6 263.7,310.6 264.3,310.6 264.9,310.6 265.5,310.6 266.1,310.6 266.7,310.6 267.3,310.6 268.0,310.6 268.6,310.6 269.2,310.6 269.8,310.6 270.4,310.6 271.0,310.6 271.6,310.6 272.2,310.6 272.9,310.6 273.5,310.6 274.1,310.6 274.7,310.6 275.3,310.6 275.9,310.6 276.5,310.6 277.2,310.6 277.8,310.6 278.4,310.6 279.0,310.6 279.6,310.6 280.2,310.6 280.8,310.6 281.4,310.6 282.1,310.6 282.7,310.6 283.3,310.6 283.9,310.6 284.5,310.6 285.1,310.6 285.7,310.6 286.3,310.6 287.0,310.6 287.6,310.6 288.2,310.6 288.8,310.6 289.4,310.6 290.0,310.6 290.6,310.6 291.3,310.6 291.9,310.6 292.5,310.6 293.1,310.6 293.7,310.6 294.3,310.6 294.9,310.6 295.6,310.6 296.2,310.6 296.8,310.6 297.4,310.6 298.0,310.6 298.6,310.6 299.3,310.6 299.9,310.6 300.5,310.6 301.1,310.6 301.7,310.6 302.3,310.6 302.9,310.6 303.6,310.6 304.2,310.6 304.8,310.6 305.4,310.6 306.0,310.6 306.6,310.6 307.3,310.6 307.9,310.6 308.5,310.6 309.1,310.6 309.7,310.6 310.3,310.6 311.0,310.6 311.6,310.6 312.2,310.6 312.8,310.6 313.4,310.6 314.1,310.6 314.7,310.6 315.3,310.6 315.9,310.6 316.5,310.6 317.2,310.6 317.8,310.6 318.4,310.6 319.0,310.6 319.6,310.6 320.2,310.6 320.9,310.6 321.5,310.6 322.1,310.6 322.7,310.6 323.3,310.6 324.0,310.6 324.6,310.6 325.2,310.6 325.8,310.6 326.4,310.6 327.1,310.6 327.7,310.6 328.3,310.6 328.9,310.6 329.5,310.6 330.1,310.6 330.7,310.6 331.3,310.6 331.9,310.6 332.5,310.6 333.1,310.6 333.7,310.6 334.3,310.6 334.9,310.6 335.5,310.6 336.1,310.6 336.7,310.6 337.4,310.6 338.0,310.6 338.6,310.6 339.2,310.6 339.8,310.6 340.4,310.6 341.0,310.6 341.6,310.6 342.2,310.6 342.8,310.6 343.4,310.6 344.0,310.6 344.6,310.6 345.2,310.6 345.8,310.6 346.4,310.6 347.0,310.6 347.6,310.6 348.3,310.6 348.9,310.6 349.5,310.6 350.1,310.6 350.7,310.6 351.3,310.6 351.9,310.6 352.5,310.6 353.2,310.6 353.8,310.6 354.4,310.6 355.0,310.6 355.6,310.6 356.2,310.6 356.8,310.6 357.4,310.6 358.1,310.6 358.7,310.6 359.3,310.6 359.9,310.6 360.5,310.6 361.1,310.6 361.7,310.6 362.3,310.6 362.9,310.6 363.6,310.6 364.2,310.6 364.8,310.6 365.4,310.6 366.1,310.6 366.7,310.6 367.3,310.6 367.9,310.6 368.6,310.6 369.2,310.6 369.8,310.6 370.4,310.6 371.0,310.6 371.7,310.6 372.3,310.6 372.9,310.6 373.5,310.6 374.2,310.6 374.8,310.6 375.4,310.6 376.0,310.6 376.7,310.6 377.3,310.6 377.9,310.6 378.5,310.6 379.1,310.6 379.7,310.6 380.4,310.6 381.0,310.6 381.6,310.6 382.2,310.6 382.8,310.6 383.4,310.6 384.0,310.6 384.6,310.6 385.2,310.6 385.9,310.6 386.5,310.6 387.1,310.6 387.7,310.6 388.3,310.6 388.3,310.0 388.4,309.4 388.4,308.8 388.5,308.2 388.5,307.6 388.6,307.0 388.6,306.4 388.6,305.8 388.7,305.2 388.7,304.6 388.8,304.0 388.8,303.4 388.9,302.8 388.9,302.2 388.9,302.8 389.0,303.4 389.0,304.0 389.1,304.6 389.1,305.2 389.2,305.8 389.2,306.4 389.2,307.0 389.3,307.6 389.3,308.2 389.4,308.8 389.4,309.4 389.5,310.0 389.5,310.6 390.1,310.6 390.7,310.6 391.3,310.6 391.9,310.6 392.5,310.6 393.1,310.6 393.7,310.6 394.3,310.6 394.9,310.6 395.5,310.6 396.1,310.6 396.7,310.6 397.3,310.6 397.9,310.6 398.5,310.6 399.1,310.6 399.7,310.6 400.3,310.6 400.9,310.6 401.5,310.6 402.1,310.6 402.7,310.6 403.3,310.6 403.9,310.6 404.5,310.6 405.1,310.6 405.7,310.6 406.3,310.6 406.9,310.6 407.5,310.6 408.2,310.6 408.8,310.6 409.4,310.6 410.0,310.6 410.6,310.6 411.2,310.6 411.8,310.6 412.4,310.6 413.0,310.6 413.6,310.6 414.2,310.6 414.8,310.6 415.4,310.6 416.0,310.6 416.6,310.6 417.2,310.6 417.8,310.6 418.4,310.6 419.0,310.6 419.6,310.6 420.2,310.6 420.8,310.6 421.4,310.6 422.0,310.6 422.6,310.6 423.2,310.6 423.8,310.6 424.4,310.6 425.0,310.6 425.6,310.6 426.2,310.6 426.8,310.6 427.4,310.6 428.0,310.6 428.6,310.6 429.2,310.6 429.8,310.6 430.4,310.6 431.0,310.6 431.6,310.6 432.2,310.6 432.8,310.6 433.4,310.6 434.0,310.6 434.6,310.6 435.2,310.6 435.8,310.6 436.4,310.6 437.0,310.6 437.6,310.6 438.2,310.6 438.8,310.6 439.4,310.6 440.0,310.6 440.6,310.6 441.2,310.6 441.8,310.6 442.4,310.6 443.0,310.6 443.6,310.6 444.2,310.6 444.9,310.6 445.5,310.6 446.1,310.6 446.7,310.6 447.3,310.6 447.9,310.6 448.5,310.6 449.1,310.6 449.7,310.6 450.3,310.6 450.9,310.6 451.5,310.6 452.1,310.6 452.7,310.6 453.3,310.6 453.9,310.6 454.5,310.6 455.1,310.6 455.7,310.6 456.3,310.6 456.9,310.6 457.5,310.6 458.1,310.6 458.7,310.6 459.3,310.6 459.9,310.6 460.5,310.6 461.1,310.6 461.7,310.6 462.3,310.6 462.9,310.6 463.5,310.6 464.1,310.6 464.7,310.6 465.3,310.6 465.9,310.6 466.5,310.6 467.1,310.6 467.7,310.6 468.3,310.6 468.9,310.6 469.5,310.6 470.1,310.6 470.7,310.6 471.3,310.6 471.9,310.6 472.5,310.6 473.1,310.6 473.7,310.6 474.3,310.6 474.9,310.6 475.5,310.6 476.1,310.6 476.7,310.6 477.3,310.6 477.9,310.6 478.5,310.6 479.1,310.6 479.7,310.6 480.3,310.6 481.0,310.6 481.6,310.6 482.2,310.6 482.8,310.6 483.4,310.6 484.0,310.6 484.6,310.6 485.2,310.6 485.8,310.6 486.4,310.6 487.0,310.6 487.6,310.6 488.2,310.6 488.8,310.6 489.4,310.6 490.0,310.6 490.6,310.6 491.2,310.6 491.8,310.6 492.4,310.6 493.0,310.6 493.6,310.6 494.2,310.6 494.8,310.6 495.4,310.6 496.0,310.6 496.6,310.6 497.2,310.6 497.8,310.6 498.4,310.6 499.0,310.6" fill="none" stroke="#1b807c" stroke-width="1.90" stroke-linejoin="round" stroke-linecap="round" />
<path d="M160.0,310.7L161.0,310.7 161.7,310.7 162.3,310.7 163.2,310.7 164.0,310.7 164.9,310.7 165.8,310.7 166.4,310.7 167.0,310.7 167.6,310.7 168.4,310.6 169.3,310.6 170.0,310.6 170.8,310.6 172.0,310.6 172.9,310.6 173.5,310.6 174.1,310.5 174.5,310.5 174.8,310.5 175.1,310.4 175.5,310.4 176.0,310.3 176.6,310.3 177.2,310.2 177.8,310.2 178.4,310.2 179.1,310.1 179.7,310.0 180.3,309.8 180.8,309.5 181.3,309.1 181.7,308.7 182.1,308.2 182.5,307.7 182.9,307.0 183.2,306.3 183.6,305.6 184.0,304.7 184.4,303.7 184.8,302.7 185.0,302.1 185.2,301.5 185.4,300.9 185.6,300.3 185.8,299.7 186.0,299.0 186.2,298.4 186.4,297.7 186.6,297.1 186.8,296.4 187.0,295.8 187.2,295.1 187.4,294.4 187.6,293.8 187.8,293.1 188.0,292.4 188.2,291.6 188.4,290.9 188.6,290.2 188.8,289.4 189.0,288.7 189.3,288.0 189.5,287.3 189.6,286.5 189.8,285.8 190.0,285.1 190.2,284.5 190.4,283.8 190.6,283.2 190.8,282.5 190.9,281.9 191.1,281.3 191.3,280.7 191.4,280.1 191.6,279.5 191.8,278.9 191.9,278.3 192.1,277.7 192.2,277.1 192.4,276.6 192.5,276.0 192.6,275.4 192.8,274.8 192.9,274.2 193.0,273.6 193.1,273.0 193.3,272.4 193.4,271.8 193.5,271.2 193.6,270.6 193.7,270.0 193.8,269.4 193.9,268.8 194.0,268.2 194.0,267.6 194.1,267.0 194.2,266.4 194.3,265.8 194.4,265.2 194.5,264.6 194.7,263.4 194.9,262.3 195.0,261.2 195.2,260.1 195.4,259.0 195.5,258.4 195.6,257.8 195.7,257.1 195.7,256.5 195.8,255.7 195.9,255.0 196.0,254.2 196.1,253.4 196.1,252.5 196.2,251.6 196.3,250.9 196.3,250.3 196.4,249.7 196.4,249.0 196.5,248.4 196.5,247.7 196.6,247.0 196.6,246.4 196.7,245.7 196.7,245.0 196.8,244.4 196.8,243.7 196.9,243.1 196.9,242.4 197.0,241.8 197.0,241.2 197.1,240.6 197.1,240.0 197.2,239.2 197.2,238.4 197.3,237.7 197.3,237.0 197.4,236.3 197.4,235.7 197.5,235.0 197.5,234.4 197.6,233.7 197.6,233.0 197.7,232.2 197.7,231.4 197.8,230.7 197.8,230.1 197.8,229.5 197.8,228.7 197.9,228.0 197.9,227.2 197.9,226.5 197.9,225.8 198.0,225.2 198.0,224.5 198.0,223.9 198.0,223.2 198.0,222.6 198.0,222.0 198.0,221.4 198.1,220.7 198.1,220.0 198.1,219.3 198.1,218.6 198.1,218.0 198.1,217.2 198.1,216.5 198.1,215.8 198.2,215.1 198.2,214.4 198.2,213.7 198.2,213.1 198.2,212.5 198.2,211.9 198.2,211.3 198.2,210.7 198.2,210.1 198.2,209.4 198.3,208.8 198.3,208.2 198.3,207.6 198.3,207.0 198.3,206.3 198.3,205.5 198.3,204.8 198.3,204.1 198.3,203.4 198.4,202.7 198.4,202.0 198.4,201.4 198.4,200.7 198.4,200.0 198.4,199.4 198.4,198.7 198.4,198.1 198.5,197.4 198.5,196.8 198.5,196.1 198.5,195.5 198.5,194.9 198.5,194.2 198.5,193.6 198.5,193.0 198.6,192.3 198.6,191.7 198.6,191.1 198.6,190.5 198.6,189.8 198.6,189.2 198.6,188.6 198.6,188.0 198.7,187.3 198.7,186.7 198.7,186.1 198.7,185.5 198.7,184.9 198.7,184.3 198.7,183.6 198.7,183.0 198.8,182.4 198.8,181.8 198.8,181.2 198.8,180.6 198.8,180.0 198.8,179.3 198.8,178.7 198.8,178.1 198.8,177.5 198.9,176.9 198.9,176.2 198.9,175.6 198.9,175.0 198.9,174.4 198.9,173.7 198.9,173.1 198.9,172.5 199.0,171.9 199.0,171.2 199.0,170.6 199.0,169.9 199.0,169.3 199.0,168.6 199.0,168.0 199.0,167.4 199.0,166.7 199.0,166.1 199.1,165.4 199.1,164.8 199.1,164.1 199.1,163.5 199.1,162.9 199.1,162.2 199.1,161.6 199.1,161.0 199.1,160.3 199.2,159.7 199.2,159.1 199.2,158.4 199.2,157.8 199.2,157.2 199.2,156.6 199.2,156.0 199.2,155.2 199.3,154.5 199.3,153.8 199.3,153.0 199.3,152.3 199.4,151.6 199.4,150.9 199.4,150.2 199.4,149.5 199.5,148.9 199.5,148.2 199.5,147.5 199.5,146.9 199.6,146.2 199.6,145.6 199.6,144.9 199.7,144.3 199.7,143.6 199.8,143.0 199.8,142.4 199.8,141.8 199.9,141.2 199.9,140.6 199.9,140.0 200.0,139.2 200.1,138.4 200.1,137.6 200.2,136.9 200.2,136.1 200.3,135.4 200.3,134.7 200.4,134.0 200.4,133.3 200.5,132.6 200.5,132.0 200.6,131.3 200.7,130.7 200.7,130.1 200.8,129.4 200.8,128.6 200.9,127.7 201.0,127.0 201.1,126.2 201.2,125.4 201.2,124.7 201.3,124.0 201.4,123.3 201.5,122.6 201.6,121.9 201.7,121.2 201.8,120.6 201.9,119.9 202.0,119.2 202.1,118.5 202.2,117.8 202.3,117.1 202.5,116.5 202.6,115.8 202.7,115.1 202.8,114.5 203.0,113.8 203.1,113.2 203.2,112.6 203.3,112.0 203.5,111.4 203.7,110.2 204.0,109.2 204.3,108.2 204.5,107.4 204.8,106.6 205.1,105.8 205.3,105.2 205.6,104.6 205.8,104.1 206.1,103.6 206.4,103.2 206.6,102.7 206.9,102.2 207.1,101.7 207.4,101.0 207.6,100.3 207.9,99.5 208.1,98.5 208.3,97.5 208.6,96.4 208.8,95.4 209.1,94.4 209.3,93.5 209.6,92.7 209.8,92.0 210.1,91.4 210.3,90.8 210.6,90.4 210.8,90.1 211.0,89.8 211.2,89.5 211.5,89.4 211.8,89.3 212.1,89.3 212.5,89.3 213.0,89.1 213.5,88.6 214.0,87.7 214.6,86.4 215.1,84.9 215.6,83.6 216.1,82.7 216.5,82.0 216.9,81.7 217.2,81.6 217.5,81.6 217.8,81.7 218.2,81.9 218.6,82.3 219.1,82.5 219.7,82.5 220.3,81.8 220.9,80.5 221.6,78.8 222.4,77.0 223.2,75.8 224.1,75.7 225.0,76.6 226.0,77.4 226.6,77.4 227.1,76.9 227.7,76.0 228.3,74.8 228.9,73.7 229.5,72.9 230.2,72.7 230.8,73.0 231.4,73.8 232.0,74.6 232.7,75.2 233.3,75.2 233.9,74.6 234.5,73.6 235.1,72.5 235.7,71.5 236.3,70.9 236.9,70.9 237.5,71.4 238.1,72.1 238.7,73.0 239.2,73.6 239.8,73.7 240.4,73.3 241.0,72.4 241.6,71.3 242.2,70.3 242.8,69.7 243.4,69.6 244.0,70.0 244.6,70.8 245.2,71.7 245.8,72.3 246.4,72.5 247.0,72.2 247.6,71.4 248.2,70.4 248.7,69.3 249.3,68.7 249.9,68.5 250.5,68.8 251.1,69.6 251.7,70.5 252.3,71.2 252.9,71.5 253.5,71.3 254.1,70.6 254.7,69.5 255.3,68.5 255.9,67.8 256.5,67.6 257.1,68.0 257.7,68.8 258.3,69.7 258.9,70.5 259.5,70.8 260.1,70.6 260.7,69.9 261.3,69.0 261.9,68.0 263.1,67.1 264.3,68.2 265.5,69.9 266.7,70.2 267.9,68.6 269.0,66.9 270.2,66.9 271.4,68.6 272.6,69.9 273.8,69.3 275.0,67.3 276.2,66.2 277.4,67.0 278.5,68.8 279.7,69.4 280.9,68.0 282.1,66.1 283.3,65.8 284.5,67.4 285.7,68.9 286.9,68.6 288.0,66.8 289.2,65.4 290.4,66.0 291.6,67.8 292.7,68.7 293.8,67.9 294.7,66.3 295.8,65.1 296.8,65.4 297.4,66.3 298.1,67.2 298.8,68.1 299.5,68.4 300.3,67.8 301.1,66.5 301.7,65.5 302.3,64.9 302.9,64.9 303.6,65.4 304.3,66.4 304.9,67.4 305.6,68.1 306.3,68.1 307.1,67.4 307.8,66.2 308.6,65.1 309.3,64.6 309.9,64.9 310.5,65.7 311.2,66.7 311.8,67.5 312.4,68.0 313.1,67.9 313.7,67.2 314.4,66.1 315.1,65.1 315.7,64.5 316.4,64.7 317.1,65.5 317.9,66.7 318.6,67.7 319.4,67.9 320.1,67.4 320.7,66.5 321.4,65.4 322.0,64.7 322.6,64.4 323.3,64.8 323.9,65.7 324.6,66.8 325.3,67.6 325.9,67.9 326.6,67.5 327.3,66.5 328.0,65.3 328.7,64.5 329.4,64.4 330.1,65.0 330.7,65.9 331.3,66.9 332.0,67.6 332.6,67.8 333.2,67.4 333.8,66.6 334.4,65.5 335.1,64.7 335.7,64.3 336.4,64.5 337.0,65.3 337.6,66.3 338.3,67.3 339.0,67.7 339.6,67.5 340.3,66.7 341.0,65.6 341.6,64.7 342.3,64.2 343.0,64.5 343.7,65.4 344.4,66.5 345.1,67.4 345.8,67.7 346.4,67.4 347.0,66.6 347.6,65.6 348.2,64.7 348.8,64.2 349.4,64.3 350.0,64.8 350.7,65.9 351.3,66.9 352.0,67.6 352.7,67.5 353.4,66.9 354.0,65.8 354.7,64.8 355.4,64.2 356.0,64.2 356.7,64.9 357.4,65.9 358.0,67.0 358.7,67.5 359.4,67.4 360.0,66.7 360.7,65.7 361.3,64.8 361.9,64.2 362.5,64.1 363.2,64.6 363.8,65.6 364.4,66.6 365.0,67.3 365.7,67.5 366.3,67.1 366.9,66.2 367.6,65.2 368.2,64.4 368.8,64.0 369.5,64.3 370.1,65.0 370.7,66.1 371.4,67.0 372.0,67.4 372.6,67.4 373.2,66.7 373.8,65.8 374.4,64.8 375.0,64.1 375.6,64.0 376.2,64.3 376.8,65.2 377.4,66.2 378.1,67.0 378.7,67.4 379.3,67.2 379.9,66.5 380.5,65.5 381.2,64.6 381.8,64.0 382.5,64.0 383.2,64.7 383.9,65.8 384.5,66.8 385.2,67.3 385.9,67.0 386.5,66.2 387.2,65.6 387.8,65.4 388.4,65.5 389.0,65.6 389.0,66.2 389.0,66.9 389.0,67.5 389.0,68.2 389.0,68.8 389.0,69.5 389.0,70.1 389.0,70.8 389.0,71.4 389.0,72.0 389.0,72.6 389.0,73.3 389.0,73.9 389.0,74.5 389.0,75.1 389.1,75.7 389.1,76.3 389.1,76.9 389.1,77.5 389.1,78.1 389.1,78.7 389.1,79.3 389.1,79.9 389.1,80.6 389.1,81.2 389.1,81.8 389.1,82.4 389.1,83.1 389.1,83.7 389.1,84.3 389.1,84.9 389.1,85.6 389.1,86.2 389.1,86.8 389.1,87.4 389.1,88.1 389.1,88.7 389.1,89.3 389.1,89.9 389.1,90.5 389.1,91.1 389.1,91.7 389.1,92.3 389.1,93.0 389.1,93.6 389.1,94.2 389.1,94.8 389.1,95.4 389.1,96.0 389.2,96.6 389.2,97.2 389.2,97.8 389.2,98.4 389.2,99.0 389.2,99.7 389.2,100.3 389.2,100.9 389.2,101.5 389.2,102.1 389.2,102.7 389.2,103.3 389.2,103.9 389.2,104.5 389.2,105.1 389.2,105.7 389.2,106.3 389.2,106.9 389.2,107.5 389.2,108.1 389.2,108.7 389.2,109.3 389.2,109.9 389.2,110.5 389.2,111.2 389.2,111.8 389.2,112.4 389.2,113.1 389.3,113.7 389.3,114.3 389.3,115.0 389.3,115.6 389.3,116.2 389.3,116.9 389.3,117.5 389.3,118.1 389.3,118.8 389.3,119.4 389.3,120.0 389.3,120.7 389.3,121.3 389.3,121.9 389.3,122.5 389.3,123.1 389.3,123.7 389.3,124.3 389.3,124.9 389.3,125.5 389.3,126.1 389.4,126.7 389.4,127.3 389.4,127.9 389.4,128.5 389.4,129.1 389.4,129.7 389.4,130.3 389.4,130.9 389.4,131.5 389.4,132.1 389.4,132.7 389.4,133.3 389.4,133.9 389.4,134.5 389.4,135.1 389.4,135.7 389.5,136.4 389.5,137.0 389.5,137.6 389.5,138.2 389.5,138.8 389.5,139.4 389.5,140.0 389.5,140.6 389.5,141.3 389.5,141.9 389.5,142.6 389.6,143.2 389.6,143.9 389.6,144.5 389.6,145.2 389.6,145.8 389.6,146.4 389.6,147.1 389.6,147.7 389.6,148.4 389.6,149.0 389.7,149.7 389.7,150.3 389.7,150.9 389.7,151.6 389.7,152.2 389.7,152.8 389.7,153.5 389.7,154.1 389.7,154.8 389.8,155.4 389.8,156.0 389.8,156.7 389.8,157.3 389.8,157.9 389.8,158.5 389.8,159.2 389.8,159.8 389.9,160.4 389.9,161.0 389.9,161.7 389.9,162.3 389.9,162.9 389.9,163.5 389.9,164.2 390.0,164.8 390.0,165.4 390.0,166.0 390.0,166.6 390.0,167.2 390.0,167.8 390.0,168.4 390.0,169.0 390.1,169.6 390.1,170.2 390.1,170.8 390.1,171.4 390.1,172.0 390.1,172.6 390.1,173.3 390.2,173.9 390.2,174.5 390.2,175.2 390.2,175.8 390.2,176.4 390.2,177.0 390.3,177.7 390.3,178.3 390.3,178.9 390.3,179.5 390.3,180.2 390.3,180.8 390.4,181.5 390.4,182.1 390.4,182.8 390.4,183.4 390.4,184.1 390.4,184.7 390.5,185.4 390.5,186.0 390.5,186.7 390.5,187.3 390.5,187.9 390.6,188.5 390.6,189.1 390.6,189.7 390.6,190.3 390.6,190.9 390.6,191.5 390.7,192.1 390.7,192.7 390.7,193.3 390.7,193.9 390.7,194.5 390.7,195.1 390.8,195.8 390.8,196.4 390.8,197.0 390.8,197.6 390.8,198.2 390.9,198.8 390.9,199.4 390.9,200.0 390.9,200.6 390.9,201.2 391.0,201.8 391.0,202.4 391.0,203.0 391.0,203.6 391.0,204.2 391.1,204.9 391.1,205.5 391.1,206.1 391.1,206.7 391.2,207.3 391.2,207.9 391.2,208.5 391.2,209.1 391.3,209.7 391.3,210.4 391.3,211.0 391.3,211.6 391.4,212.3 391.4,212.9 391.4,213.5 391.5,214.2 391.5,214.8 391.5,215.5 391.6,216.1 391.6,216.8 391.6,217.5 391.7,218.1 391.7,218.8 391.7,219.4 391.8,220.0 391.8,220.6 391.8,221.2 391.9,221.8 391.9,222.5 391.9,223.1 392.0,223.8 392.0,224.5 392.1,225.2 392.1,225.9 392.1,226.5 392.2,227.1 392.2,227.8 392.3,228.4 392.3,229.0 392.3,229.7 392.4,230.3 392.4,230.9 392.5,231.5 392.5,232.1 392.5,232.8 392.6,233.5 392.6,234.2 392.7,234.9 392.7,235.7 392.8,236.5 392.9,237.3 392.9,237.9 393.0,238.6 393.0,239.3 393.1,239.9 393.1,240.5 393.2,241.2 393.3,242.0 393.4,242.9 393.5,243.7 393.6,244.6 393.7,245.4 393.8,246.3 393.9,246.9 394.0,247.6 394.1,248.2 394.2,248.9 394.3,249.6 394.4,250.2 394.5,250.9 394.6,251.6 394.8,252.3 394.9,253.0 395.0,253.7 395.1,254.3 395.2,255.0 395.4,255.7 395.5,256.4 395.6,257.1 395.8,257.8 395.9,258.4 396.1,259.1 396.2,259.8 396.4,260.4 396.5,261.1 396.7,261.7 396.8,262.4 397.0,263.0 397.1,263.6 397.3,264.2 397.5,264.8 397.6,265.4 397.8,266.0 398.0,266.5 398.2,267.1 398.4,267.7 398.6,268.5 398.9,269.4 399.2,270.2 399.5,271.0 399.8,271.8 400.1,272.6 400.4,273.3 400.8,274.1 401.1,274.8 401.4,275.6 401.8,276.3 402.1,277.0 402.5,277.7 402.8,278.4 403.2,279.0 403.5,279.7 403.9,280.3 404.2,280.9 404.6,281.5 405.0,282.1 405.4,282.7 405.8,283.3 406.2,283.9 406.6,284.5 407.1,285.0 407.5,285.6 408.0,286.1 408.5,286.7 409.0,287.2 409.5,287.8 410.0,288.3 410.5,288.9 411.1,289.4 411.6,289.9 412.2,290.4 412.8,290.9 413.4,291.4 414.0,291.9 414.6,292.4 415.3,292.9 416.0,293.3 416.7,293.8 417.4,294.2 418.2,294.7 418.8,295.0 419.3,295.3 419.9,295.6 420.5,295.9 421.1,296.2 421.8,296.5 422.4,296.8 423.1,297.1 423.7,297.4 424.4,297.6 425.1,297.9 425.8,298.2 426.5,298.5 427.2,298.7 427.9,299.0 428.6,299.3 429.3,299.5 430.0,299.8 430.7,300.0 431.4,300.2 432.2,300.5 432.8,300.7 433.5,300.9 434.2,301.1 434.9,301.3 435.5,301.5 436.2,301.7 436.9,301.8 437.5,302.0 438.2,302.2 438.9,302.3 439.6,302.5 440.2,302.6 440.9,302.7 441.6,302.9 442.3,303.0 442.9,303.1 443.6,303.2 444.3,303.4 444.9,303.5 445.6,303.6 446.3,303.7 447.0,303.8 447.6,303.9 448.3,304.0 449.0,304.1 449.6,304.2 450.3,304.3 450.9,304.4 451.6,304.5 452.2,304.6 453.1,304.7 453.9,304.8 454.8,304.9 455.6,305.0 456.4,305.1 457.3,305.1 457.9,305.2 458.5,305.2 459.1,305.3 459.8,305.4 460.5,305.4 461.2,305.5 462.0,305.5 462.7,305.6 463.5,305.7 464.2,305.7 464.9,305.8 465.6,305.8 466.3,305.9 467.0,306.0 467.7,306.0 468.4,306.1 469.1,306.1 469.8,306.2 470.5,306.3 471.2,306.3 471.9,306.4 472.6,306.4 473.2,306.5 473.9,306.5 474.6,306.6 475.3,306.6 475.9,306.7 476.6,306.8 477.2,306.8 477.9,306.9 478.6,306.9 479.3,307.0 479.9,307.0 480.6,307.1 481.3,307.1 482.0,307.2 482.7,307.2 483.3,307.3 484.0,307.4 484.7,307.4 485.3,307.5 486.0,307.5 486.7,307.6 487.3,307.6 488.0,307.7 488.6,307.7 489.2,307.8 489.8,307.8 490.4,307.9 491.0,307.9 491.6,308.0 492.3,308.0 493.0,308.1 493.7,308.1 494.4,308.2 495.1,308.2 495.8,308.3 496.5,308.3 497.1,308.4 497.8,308.4 498.4,308.5" fill="none" stroke="#151515" stroke-width="1.60" stroke-linejoin="round" stroke-linecap="round" />
<path d="M86.2,310.1L86.9,311.1 87.6,310.3 88.3,310.8 89.0,309.8 89.7,311.5 90.4,311.4 91.1,309.9 91.8,311.5 92.5,310.0 93.2,310.3 93.9,310.9 94.6,311.5 95.3,311.3 96.0,309.8 96.7,310.7 97.4,310.8 98.1,310.7 98.8,311.2 99.5,310.1 100.2,311.2 100.9,309.8 101.6,310.0 102.3,310.0 103.0,310.4 103.7,311.0 104.4,310.6 105.1,311.3 105.8,310.3 106.5,311.1 107.2,311.1 107.9,310.4 108.6,310.4 109.3,311.6 110.0,310.9 110.7,311.5 111.4,311.2 112.1,311.3 112.8,310.5 113.5,310.6 114.2,310.5 114.9,311.6 115.6,310.1 116.3,311.5 117.0,310.6 117.7,310.6 118.4,310.6 119.1,310.5 119.8,310.6 120.5,309.9 121.2,310.0 121.9,311.1 122.6,310.9 123.3,309.9 124.0,310.3 124.7,310.2 125.4,309.9 126.1,310.7 126.8,310.5 127.5,309.9 128.2,310.8 128.9,311.2 129.6,310.0 130.3,310.3 131.0,311.0 131.7,310.7 132.4,310.7 133.1,310.6 133.8,311.4 134.5,310.9 135.2,310.9 135.9,310.6 136.6,310.7 137.3,311.4 138.0,310.2 138.7,311.5 139.4,309.9 140.1,310.9 140.8,309.9 141.5,311.0 142.2,310.9 142.9,311.4 143.6,311.5 144.3,310.6 145.0,311.0 145.7,311.5 146.4,310.9 147.1,310.4 147.8,310.4 148.5,310.3 149.2,311.5 149.9,310.5 150.6,311.5 151.3,311.3 152.0,311.0 152.7,309.8 153.4,311.4 154.1,311.5 154.8,309.8 155.5,311.0 156.2,310.5 156.9,310.9 157.6,310.9 158.3,310.9 159.0,310.4 159.7,309.9 160.4,311.2 161.1,311.4 161.8,310.2 162.5,310.2 163.2,310.5 163.9,310.5 164.6,311.4 165.3,310.2 166.0,310.6 166.7,311.0 167.4,310.7 168.1,310.4 168.8,311.2 169.5,310.0 170.2,310.1 170.9,310.5" fill="none" stroke="#151515" stroke-width="1.60" stroke-linejoin="round" stroke-linecap="round" />
<path d="M86.2,309.6L86.9,309.1 87.6,310.6 88.3,311.5 89.0,310.4 89.7,310.7 90.4,309.0 91.1,310.7 91.8,312.2 92.5,311.9 93.2,311.5 93.9,309.4 94.6,312.0 95.3,311.9 96.0,309.6 96.7,311.1 97.4,309.1 98.1,309.4 98.8,310.1 99.5,309.5 100.2,311.6 100.9,311.8 101.6,310.2 102.3,310.1 103.0,309.4 103.7,309.3 104.4,311.4 105.1,311.0 105.8,309.2 106.5,310.6 107.2,310.4 107.9,311.9 108.6,311.4 109.3,311.0 110.0,310.9 110.7,312.2 111.4,312.4 112.1,310.1 112.8,309.8 113.5,311.7 114.2,309.2 114.9,310.2 115.6,309.2 116.3,310.1 117.0,309.2 117.7,310.0 118.4,311.7 119.1,312.1 119.8,311.7 120.5,310.9 121.2,311.1 121.9,310.2 122.6,309.6 123.3,310.5 124.0,311.5 124.7,309.2 125.4,309.1 126.1,311.6 126.8,310.0 127.5,311.4 128.2,311.5 128.9,312.2 129.6,310.4 130.3,310.2 131.0,311.7 131.7,311.6 132.4,311.2 133.1,311.8 133.8,311.2 134.5,312.3 135.2,310.1 135.9,311.5 136.6,312.2 137.3,310.1 138.0,311.1 138.7,310.2 139.4,310.6 140.1,309.3 140.8,309.1 141.5,311.6 142.2,310.5 142.9,311.1 143.6,311.5 144.3,310.4 145.0,310.2 145.7,309.6 146.4,311.7 147.1,311.8 147.8,311.5 148.5,312.0 149.2,311.2 149.9,311.4 150.6,309.7 151.3,311.6 152.0,310.1 152.7,310.5 153.4,310.1 154.1,310.9 154.8,311.2 155.5,311.0 156.2,310.1 156.9,309.7 157.6,311.9 158.3,310.0 159.0,310.5 159.7,309.3 160.4,310.0 161.1,309.3 161.8,310.2 162.5,311.4 163.2,312.3 163.9,311.1 164.6,309.9 165.3,311.2 166.0,311.1 166.7,311.8 167.4,310.8 168.1,312.1 168.8,310.4 169.5,310.0 170.2,310.8 170.9,312.1" fill="none" stroke="#1b807c" stroke-width="1.70" stroke-linejoin="round" stroke-linecap="round" />
<path d="M389.0,310.6L389.8,311.3 390.6,309.9 391.4,311.4 392.2,311.8 393.0,311.8 393.8,310.5 394.6,310.9 395.4,311.3 396.2,311.0 397.0,311.2 397.8,309.4 398.6,310.1 399.4,309.5 400.2,311.5 401.0,310.3 401.8,311.1 402.6,310.0 403.4,310.2 404.2,309.3 405.0,310.2 405.8,311.8 406.6,309.9 407.4,310.1 408.2,311.7 409.0,309.4 409.8,309.5 410.6,310.9 411.4,311.6 412.2,309.3 413.0,311.2 413.8,311.4 414.6,309.5 415.4,311.0 416.2,310.6 417.0,310.5 417.8,311.8 418.6,309.3 419.4,309.9 420.2,311.2 421.0,310.1 421.8,310.0 422.6,311.1 423.4,311.7 424.2,309.9 425.0,310.5 425.8,310.0 426.6,310.3 427.4,310.9 428.2,311.3 429.0,309.5 429.8,311.1 430.6,310.7 431.4,309.7 432.2,309.6 433.0,309.9 433.8,309.7 434.6,311.7 435.4,311.1 436.2,309.9 437.0,310.8 437.8,310.7 438.6,309.5 439.4,311.5 440.2,310.4 441.0,309.7 441.8,309.8 442.6,310.6 443.4,311.2 444.2,311.9 445.0,311.6 445.8,310.6 446.6,309.6 447.4,311.7 448.2,310.2 449.0,309.9 449.8,311.6 450.6,309.7 451.4,309.9 452.2,310.8 453.0,310.8 453.8,311.8 454.6,310.5 455.4,309.6 456.2,311.3 457.0,309.8 457.8,309.8 458.6,310.4 459.4,310.2 460.2,311.8 461.0,309.7 461.8,311.5 462.6,311.0 463.4,309.6 464.2,309.5 465.0,311.8 465.8,309.8 466.6,309.5 467.4,310.0 468.2,311.0 469.0,310.7 469.8,311.1 470.6,311.8 471.4,310.0 472.2,309.9 473.0,311.5 473.8,309.9 474.6,311.1 475.4,309.7 476.2,309.8 477.0,309.5 477.8,311.2 478.6,309.8 479.4,309.6 480.2,309.9 481.0,310.0 481.8,309.4 482.6,310.0 483.4,311.0 484.2,311.3 485.0,309.9 485.8,310.9 486.6,311.7 487.4,310.7 488.2,310.3 489.0,309.3 489.8,311.5 490.6,311.4 491.4,309.5 492.2,309.7 493.0,311.5 493.8,310.8 494.6,310.2 495.4,309.7 496.2,309.6 497.0,310.8 497.8,311.1 498.6,311.8" fill="none" stroke="#1b807c" stroke-width="1.50" stroke-linejoin="round" stroke-linecap="round" />
<line x1="242.7" y1="218.2" x2="196" y2="244.4" stroke="#111" stroke-width="1.6"/>
<path d="M190.8,247.3 L196.6,240.4 L199.8,245.9 Z" fill="#111"/>
<text x="463.6" y="46.8" class="big">A</text>
<text x="159.65" y="54.65" style="font-size:17.20px;fill:#111;stroke:#111;stroke-width:0.35px">NO</text>
<text x="185.10" y="59.60" style="font-size:10.60px;font-weight:bold;fill:#111;stroke:#111;stroke-width:0.10px">IN</text>
<text x="237.35" y="91.10" style="font-size:17.20px;fill:#111;stroke:#111;stroke-width:0.35px">NO</text>
<text x="263.60" y="95.40" style="font-size:9.50px;fill:#111;stroke:#111;stroke-width:0.35px">x</text>
<text x="334.90" y="138.25" style="font-size:17.20px;fill:#2a4a9e;stroke:#2a4a9e;stroke-width:0.35px">NO</text>
<text x="325.75" y="220.60" style="font-size:17.20px;fill:#247e3c;stroke:#247e3c;stroke-width:0.35px">NO</text>
<text x="350.50" y="224.90" style="font-size:10.50px;fill:#247e3c;stroke:#247e3c;stroke-width:0.35px">2</text>
<text x="323.55" y="283.65" style="font-size:17.20px;fill:#5e3ca6;stroke:#5e3ca6;stroke-width:0.35px">H</text>
<text x="334.80" y="289.20" style="font-size:9.00px;fill:#5e3ca6;stroke:#5e3ca6;stroke-width:0.35px">2</text>
<text x="340.75" y="283.65" style="font-size:17.20px;fill:#5e3ca6;stroke:#5e3ca6;stroke-width:0.35px">O</text>
<text x="246.45" y="222.10" style="font-size:17.20px;fill:#1b807c;stroke:#1b807c;stroke-width:0.35px">N</text>
<text x="258.75" y="227.50" style="font-size:10.50px;fill:#1b807c;stroke:#1b807c;stroke-width:0.35px">2</text>
<text x="83.20" y="145.00" style="font-size:17.20px;fill:#d42a2a;stroke:#d42a2a;stroke-width:0.35px">O</text>
<text x="94.80" y="149.95" style="font-size:10.50px;fill:#d42a2a;stroke:#d42a2a;stroke-width:0.35px">2</text>
<text x="101.30" y="145.20" style="font-size:17.20px;fill:#d42a2a;stroke:#d42a2a;stroke-width:0.35px">in</text>
<rect x="548.2" y="16.1" width="417.3" height="320.3" fill="none" stroke="#2e2e2e" stroke-width="1.6"/>
<line x1="965.5" y1="336.35" x2="969.3" y2="336.35" stroke="#2e2e2e" stroke-width="1.5"/>
<line x1="965.5" y1="311.70" x2="971.8" y2="311.70" stroke="#2e2e2e" stroke-width="1.5"/>
<text x="978.5" y="316.80" class="tl">0</text>
<line x1="965.5" y1="287.05" x2="969.3" y2="287.05" stroke="#2e2e2e" stroke-width="1.5"/>
<line x1="965.5" y1="262.40" x2="971.8" y2="262.40" stroke="#2e2e2e" stroke-width="1.5"/>
<text x="978.5" y="267.50" class="tl">400</text>
<line x1="965.5" y1="237.75" x2="969.3" y2="237.75" stroke="#2e2e2e" stroke-width="1.5"/>
<line x1="965.5" y1="213.10" x2="971.8" y2="213.10" stroke="#2e2e2e" stroke-width="1.5"/>
<text x="978.5" y="218.20" class="tl">800</text>
<line x1="965.5" y1="188.45" x2="969.3" y2="188.45" stroke="#2e2e2e" stroke-width="1.5"/>
<line x1="965.5" y1="163.80" x2="971.8" y2="163.80" stroke="#2e2e2e" stroke-width="1.5"/>
<text x="978.5" y="168.90" class="tl">1200</text>
<line x1="965.5" y1="139.15" x2="969.3" y2="139.15" stroke="#2e2e2e" stroke-width="1.5"/>
<line x1="965.5" y1="114.50" x2="971.8" y2="114.50" stroke="#2e2e2e" stroke-width="1.5"/>
<text x="978.5" y="119.60" class="tl">1600</text>
<line x1="965.5" y1="89.85" x2="969.3" y2="89.85" stroke="#2e2e2e" stroke-width="1.5"/>
<line x1="965.5" y1="65.20" x2="971.8" y2="65.20" stroke="#2e2e2e" stroke-width="1.5"/>
<text x="978.5" y="70.30" class="tl">2000</text>
<line x1="965.5" y1="40.55" x2="969.3" y2="40.55" stroke="#2e2e2e" stroke-width="1.5"/>
<line x1="965.5" y1="15.90" x2="971.8" y2="15.90" stroke="#2e2e2e" stroke-width="1.5"/>
<text x="978.5" y="21.00" class="tl">2400</text>
<line x1="564.40" y1="336.4" x2="564.40" y2="343.2" stroke="#2e2e2e" stroke-width="1.5"/>
<text x="564.40" y="360.9" class="tl" text-anchor="middle">0</text>
<line x1="604.51" y1="336.4" x2="604.51" y2="340" stroke="#2e2e2e" stroke-width="1.5"/>
<line x1="644.62" y1="336.4" x2="644.62" y2="343.2" stroke="#2e2e2e" stroke-width="1.5"/>
<text x="644.62" y="360.9" class="tl" text-anchor="middle">500</text>
<line x1="684.73" y1="336.4" x2="684.73" y2="340" stroke="#2e2e2e" stroke-width="1.5"/>
<line x1="724.84" y1="336.4" x2="724.84" y2="343.2" stroke="#2e2e2e" stroke-width="1.5"/>
<text x="724.84" y="360.9" class="tl" text-anchor="middle">1000</text>
<line x1="764.95" y1="336.4" x2="764.95" y2="340" stroke="#2e2e2e" stroke-width="1.5"/>
<line x1="805.06" y1="336.4" x2="805.06" y2="343.2" stroke="#2e2e2e" stroke-width="1.5"/>
<text x="805.06" y="360.9" class="tl" text-anchor="middle">1500</text>
<line x1="845.17" y1="336.4" x2="845.17" y2="340" stroke="#2e2e2e" stroke-width="1.5"/>
<line x1="885.28" y1="336.4" x2="885.28" y2="343.2" stroke="#2e2e2e" stroke-width="1.5"/>
<text x="885.28" y="360.9" class="tl" text-anchor="middle">2000</text>
<line x1="925.39" y1="336.4" x2="925.39" y2="340" stroke="#2e2e2e" stroke-width="1.5"/>
<line x1="965.50" y1="336.4" x2="965.50" y2="343.2" stroke="#2e2e2e" stroke-width="1.5"/>
<text x="965.50" y="360.9" class="tl" text-anchor="middle">2500</text>
<line x1="965.5" y1="336.4" x2="968.5" y2="336.4" stroke="#2e2e2e" stroke-width="1.6"/>
<text transform="translate(1039.3,175.4) rotate(-90)" class="at" text-anchor="middle">Concentration [ppm]</text>
<path d="M564.4,56.1 L562.3,311.6" fill="none" stroke="#262626" stroke-width="1.7" stroke-dasharray="4.95 3.42" stroke-dashoffset="6.07"/>
<path d="M564.4,56.1 H893.4" fill="none" stroke="#262626" stroke-width="1.7" stroke-dasharray="4.9 3.36" stroke-dashoffset="7.36"/>
<path d="M893.4,56.1 V311.6" fill="none" stroke="#262626" stroke-width="1.7" stroke-dasharray="4.95 3.42"/>
<path d="M549,311.6 H562.3" fill="none" stroke="#262626" stroke-width="1.7" stroke-dasharray="4.95 3.42"/>
<path d="M549.0,311.6L549.8,311.6 550.5,311.6 551.3,311.6 551.9,311.6 552.5,311.6 553.2,311.6 553.8,311.6 554.4,311.6 555.1,311.6 555.7,311.6 556.3,311.6 557.0,311.6 557.6,311.6 558.2,311.6 558.9,311.6 559.6,311.6 560.3,311.6 561.0,311.6 561.7,311.6 562.4,311.6 563.1,311.6 563.8,311.6 564.4,311.6 565.1,311.6 565.8,311.5 566.5,311.5 567.2,311.5 567.8,311.5 568.4,311.5 569.1,311.5 569.7,311.5 570.4,311.5 571.0,311.5 571.7,311.5 572.3,311.4 573.0,311.4 573.6,311.4 574.4,311.4 575.2,311.3 576.0,311.3 576.7,311.2 577.3,311.1 577.8,310.9 577.7,310.6 577.3,310.3 576.9,310.1 576.7,309.8 577.0,309.6 578.0,309.8 578.8,309.2 579.7,309.3 580.3,309.7 581.0,309.5 581.7,309.5 582.4,308.8 583.2,309.6 584.0,309.3 584.7,309.2 585.3,308.7 586.0,309.0 586.6,309.3 587.4,309.1 588.1,309.2 588.8,309.3 589.6,309.2 590.2,308.7 590.8,309.2 591.5,309.4 592.1,309.5 592.8,308.7 593.5,309.5 594.2,309.1 594.9,309.1 595.6,309.6 596.3,308.8 596.9,309.3 597.5,308.8 598.1,309.4 598.8,308.6 599.4,309.1 600.0,308.8 600.7,308.9 601.3,308.6 602.0,308.8 602.7,309.3 603.3,309.4 604.0,309.3 604.6,308.9 605.2,309.1 605.8,309.1 606.4,308.9 607.0,309.1 607.7,309.6 608.3,309.1 608.9,309.0 609.6,309.3 610.2,309.5 610.9,308.6 611.5,308.9 612.2,309.4 612.8,309.1 613.4,308.6 614.0,309.1 614.6,309.0 615.2,309.2 615.8,309.0 616.4,309.6 617.0,309.2 617.6,308.8 618.3,309.2 618.9,309.0 619.5,308.7 620.2,308.8 620.8,309.5 621.5,309.1 622.1,308.9 622.7,309.3 623.3,309.3 624.0,309.0 624.6,308.8 625.2,309.2 625.8,309.1 626.4,309.1 627.0,309.1 627.6,309.0 628.2,309.3 628.8,309.2 629.4,309.5 630.1,309.4 630.7,309.5 631.4,309.0 632.0,309.0 632.6,309.3 633.3,308.9 633.9,308.9 634.5,309.0 635.1,308.8 635.7,309.0 636.4,309.4 637.0,309.4 637.6,309.3 638.2,309.5 638.8,309.6 639.4,309.2 640.0,309.6 640.6,309.7 641.3,309.4 641.9,309.5 642.6,309.1 643.2,309.2 643.8,309.0 644.5,309.0 645.1,309.6 645.8,309.4 646.4,309.5 647.0,309.8 647.6,308.9 648.2,309.0 648.8,309.3 649.5,309.1 650.1,309.4 650.7,309.7 651.3,309.5 651.9,309.1 652.5,309.3 653.1,309.2 653.8,309.6 654.4,309.1 655.0,309.7 655.7,309.2 656.3,309.0 657.0,309.9 657.6,309.4 658.2,309.7 658.9,309.5 659.5,309.9 660.2,309.1 660.8,309.4 661.4,309.4 662.0,309.6 662.6,309.7 663.2,309.0 663.8,309.5 664.4,309.9 665.1,309.8 665.7,309.2 666.3,309.6 666.9,309.4 667.5,309.4 668.1,309.0 668.8,309.0 669.4,309.5 670.1,309.4 670.7,309.6 671.3,309.2 672.0,309.9 672.6,309.0 673.2,309.8 673.9,309.8 674.5,309.6 675.2,310.0 675.8,309.0 676.4,309.2 677.0,309.3 677.6,309.5 678.2,309.9 678.8,309.7 679.4,309.5 680.1,309.4 680.7,309.8 681.3,309.7 681.9,309.9 682.5,309.2 683.1,309.1 683.8,309.5 684.4,309.6 685.0,309.9 685.7,309.7 686.3,309.3 686.9,310.0 687.6,309.3 688.2,309.4 688.9,309.3 689.5,309.3 690.1,309.8 690.8,309.7 691.4,309.9 692.0,309.3 692.6,309.6 693.2,310.0 693.9,309.7 694.5,310.0 695.1,309.2 695.7,309.5 696.3,309.5 696.9,310.0 697.5,309.9 698.2,309.5 698.8,309.6 699.4,310.0 700.0,309.3 700.6,309.4 701.2,309.5 701.8,309.8 702.4,309.4 703.0,309.4 703.6,310.1 704.3,309.3 704.9,309.7 705.5,309.8 706.1,309.3 706.7,310.2 707.3,309.4 707.9,309.3 708.5,310.0 709.1,309.9 709.7,310.1 710.3,310.1 710.9,310.2 711.5,309.9 712.1,309.4 712.8,310.1 713.4,309.5 714.0,309.6 714.6,309.4 715.2,309.5 715.8,309.9 716.4,309.6 717.0,309.5 717.6,310.2 718.2,309.4 718.8,309.5 719.5,310.0 720.1,310.0 720.7,309.9 721.4,310.3 722.0,310.3 722.6,310.0 723.3,309.8 723.9,309.9 724.5,309.8 725.2,310.3 725.8,310.2 726.4,309.9 727.1,310.2 727.7,310.2 728.3,309.6 729.0,309.6 729.6,310.2 730.2,310.2 730.8,309.7 731.4,310.0 732.0,310.2 732.6,310.2 733.3,310.4 733.9,310.2 734.5,309.7 735.1,310.4 735.7,309.9 736.3,309.5 736.9,309.9 737.5,310.0 738.2,309.9 738.8,309.7 739.4,310.4 740.0,309.4 740.6,309.9 741.2,309.7 741.8,310.4 742.5,310.1 743.1,310.1 743.7,310.3 744.3,309.5 744.9,309.5 745.5,309.8 746.2,310.4 746.8,310.2 747.4,309.7 748.0,309.6 748.6,309.9 749.2,310.0 749.9,310.2 750.5,309.6 751.1,310.3 751.7,310.2 752.3,309.8 752.9,309.6 753.5,309.9 754.1,310.1 754.7,310.2 755.3,309.7 756.0,310.4 756.6,310.4 757.2,310.3 757.8,309.7 758.4,309.7 759.0,310.2 759.6,310.2 760.2,310.1 760.9,310.4 761.5,310.2 762.1,310.4 762.8,309.7 763.4,309.6 764.0,310.0 764.7,310.4 765.3,309.8 765.9,310.2 766.6,309.6 767.2,309.6 767.8,309.9 768.4,310.1 769.1,310.0 769.7,310.4 770.3,310.1 770.9,309.8 771.5,310.5 772.2,310.3 772.8,309.9 773.4,310.6 774.0,310.2 774.6,310.1 775.2,310.1 775.8,309.8 776.4,310.2 777.0,310.2 777.6,309.8 778.2,310.1 778.8,310.0 779.4,310.0 780.0,310.5 780.6,310.5 781.3,310.1 781.9,310.2 782.5,309.8 783.1,310.1 783.8,310.0 784.4,310.6 785.0,310.4 785.6,309.8 786.3,310.5 786.9,310.1 787.5,310.4 788.2,310.7 788.8,310.7 789.4,310.2 790.0,310.7 790.7,310.6 791.3,310.8 791.9,310.1 792.6,310.3 793.2,310.6 793.8,310.2 794.4,310.0 795.1,310.1 795.7,310.3 796.3,310.2 797.0,310.1 797.6,310.0 798.2,310.4 798.8,310.6 799.5,310.7 800.1,310.9 800.7,310.7 801.3,310.2 801.9,310.2 802.6,310.8 803.2,310.8 803.8,310.9 804.4,310.9 805.1,310.9 805.7,310.2 806.3,310.8 806.9,310.8 807.5,310.9 808.2,310.6 808.8,310.8 809.4,310.0 810.0,310.5 810.6,310.9 811.2,310.5 811.8,310.8 812.4,310.4 813.0,310.2 813.7,310.5 814.3,310.0 814.9,310.5 815.5,310.4 816.1,310.1 816.7,310.4 817.3,311.0 817.9,310.7 818.6,310.3 819.2,310.4 819.8,310.5 820.5,310.7 821.1,310.5 821.7,310.1 822.4,311.0 823.0,310.7 823.6,310.7 824.3,310.9 824.9,310.6 825.5,310.8 826.2,310.9 826.8,310.6 827.4,311.1 828.0,310.7 828.6,310.8 829.2,310.2 829.8,310.9 830.4,310.8 831.0,311.0 831.6,311.1 832.2,311.2 832.8,311.2 833.4,310.7 834.0,310.6 834.6,310.5 835.2,310.8 835.9,310.4 836.5,310.6 837.1,310.7 837.7,311.0 838.3,310.9 838.9,310.5 839.5,310.7 840.2,311.2 840.8,310.3 841.4,311.2 842.0,310.6 842.6,310.7 843.2,311.3 843.8,311.1 844.5,311.1 845.1,310.9 845.7,310.8 846.3,310.6 846.9,311.1 847.5,310.9 848.2,311.1 848.8,311.3 849.4,311.0 850.0,310.5 850.6,310.7 851.3,310.9 851.9,310.4 852.5,310.5 853.1,311.0 853.8,310.9 854.4,310.6 855.0,311.0 855.7,310.9 856.3,310.9 856.9,310.8 857.6,311.0 858.2,311.3 858.9,310.9 859.6,311.2 860.2,311.0 860.9,310.6 861.5,311.3 862.2,311.3 862.9,310.7 863.5,310.8 864.1,311.5 864.8,311.4 865.4,311.4 866.0,311.5 866.6,311.2 867.2,311.0 867.9,311.1 868.5,311.1 869.1,311.6 869.7,311.2 870.4,310.9 871.0,310.8 871.7,310.7 872.3,311.0 872.9,311.7 873.6,311.0 874.2,310.7 874.9,311.6 875.5,310.7 876.2,310.7 876.8,311.0 877.5,310.9 878.1,311.5 878.8,311.2 879.5,311.0 880.1,311.0 880.8,311.4 881.4,311.6 882.1,311.7 882.8,311.2 883.5,310.9 884.1,311.7 884.8,311.5 885.5,311.5 886.2,311.2 886.8,311.2 887.5,311.3 888.2,311.0 888.9,311.6 889.6,311.3 890.3,311.2 890.9,311.0 891.6,311.2 892.3,311.0 893.0,311.1 893.6,311.4 894.3,311.4 894.9,311.4 895.5,311.4 896.3,311.4 897.1,311.4 898.0,311.5 898.4,311.5 898.5,311.5 898.5,311.5 898.6,311.5 899.0,311.5 899.7,311.5 900.4,311.6 901.1,311.6 901.7,311.7 902.3,311.7 902.9,311.7 903.3,311.8 903.7,311.8 903.8,312.4 903.8,313.0 903.9,313.6 904.0,314.2 904.0,314.8 904.1,315.4 904.2,316.0 904.2,316.6 904.3,317.2 904.4,316.6 904.4,316.0 904.5,315.4 904.6,314.8 904.6,314.2 904.7,313.6 904.8,313.0 904.8,312.4 904.9,311.8 905.5,311.8 906.1,311.8 906.7,311.8 907.3,311.8 907.9,311.8 908.5,311.8 909.1,311.8 909.7,311.8 910.3,311.8 910.9,311.8 911.5,311.8 912.1,311.8 912.7,311.8 913.3,311.8 913.9,311.8 914.5,311.8 915.1,311.7 915.7,311.7 916.3,311.7 916.9,311.7 917.5,311.7 918.1,311.7 918.7,311.7 919.3,311.7 919.9,311.7 920.5,311.7 921.1,311.7 921.7,311.7 922.3,311.7 922.9,311.7 923.5,311.7 924.1,311.7 924.7,311.7 925.3,311.7 925.9,311.7 926.5,311.7 927.1,311.7 927.7,311.7 928.3,311.7 928.9,311.7 929.5,311.7 930.1,311.7 930.7,311.7 931.3,311.7 931.9,311.7 932.5,311.7 933.1,311.7 933.7,311.7 934.3,311.7 934.9,311.6 935.6,311.6 936.2,311.6 936.8,311.6 937.4,311.6 938.0,311.6 938.6,311.6 939.2,311.6 939.8,311.6 940.4,311.6 941.0,311.6 941.6,311.6 942.2,311.6 942.8,311.6 943.4,311.6 944.0,311.6 944.6,311.6 945.2,311.6 945.8,311.6 946.4,311.6 947.0,311.6 947.6,311.6 948.2,311.6 948.8,311.6 949.4,311.6 950.0,311.6 950.6,311.6 951.2,311.6 951.8,311.6 952.4,311.6 953.0,311.6 953.6,311.6 954.2,311.6 954.8,311.6 955.4,311.5 956.0,311.5 956.6,311.5 957.2,311.5 957.8,311.5 958.4,311.5 959.0,311.5 959.6,311.5 960.2,311.5 960.8,311.5 961.4,311.5 962.0,311.5 962.6,311.5 963.2,311.5 963.8,311.5 964.4,311.5 965.0,311.5" fill="none" stroke="#e8892a" stroke-width="1.70" stroke-linejoin="round" stroke-linecap="round" />
<path d="M549.0,312.0L549.9,312.0 550.5,312.0 551.1,312.0 551.9,312.0 552.6,312.0 553.4,312.0 554.3,312.0 555.1,312.1 555.9,312.1 556.7,312.1 557.5,312.1 558.2,312.2 558.9,312.2 560.0,312.4 560.8,312.6 561.5,313.0 562.1,313.4 562.5,313.8 562.9,314.2 563.2,314.6 563.5,314.9 563.8,315.0 564.1,315.0 564.3,314.9 564.5,314.7 564.6,314.5 564.8,314.2 564.9,313.9 565.1,313.7 565.3,313.5 565.5,313.4 565.8,313.3 566.1,313.2 566.4,313.2 566.7,313.1 567.0,313.0 567.2,312.9 567.5,312.8 567.8,312.7 568.0,312.6 568.3,312.5 568.5,312.3 568.8,312.2 569.0,311.9 569.2,311.6 569.4,311.2 569.6,310.7 569.7,310.1 569.8,309.5 570.0,308.8 570.1,308.0 570.2,307.1 570.3,306.1 570.4,305.0 570.5,304.4 570.5,303.7 570.6,303.0 570.7,302.3 570.7,301.6 570.8,300.8 570.8,300.0 570.9,299.2 571.0,298.3 571.0,297.5 571.1,296.6 571.2,295.7 571.2,295.1 571.2,294.5 571.3,293.9 571.3,293.2 571.4,292.6 571.4,292.0 571.4,291.4 571.5,290.7 571.5,290.1 571.6,289.5 571.6,288.8 571.6,288.2 571.7,287.5 571.7,286.8 571.7,286.2 571.8,285.5 571.8,284.8 571.9,284.1 571.9,283.4 571.9,282.7 572.0,282.0 572.0,281.2 572.0,280.5 572.1,279.7 572.1,279.0 572.2,278.2 572.2,277.4 572.2,276.8 572.2,276.2 572.3,275.6 572.3,275.0 572.3,274.4 572.4,273.7 572.4,273.1 572.4,272.4 572.4,271.8 572.5,271.1 572.5,270.4 572.5,269.8 572.5,269.1 572.6,268.4 572.6,267.7 572.6,267.0 572.7,266.2 572.7,265.5 572.7,264.8 572.7,264.1 572.8,263.4 572.8,262.6 572.8,261.9 572.8,261.2 572.9,260.4 572.9,259.7 572.9,258.9 573.0,258.2 573.0,257.5 573.0,256.7 573.0,256.0 573.1,255.2 573.1,254.5 573.1,253.8 573.2,253.0 573.2,252.3 573.2,251.6 573.3,250.8 573.3,250.1 573.3,249.4 573.4,248.6 573.4,247.9 573.4,247.1 573.5,246.4 573.5,245.8 573.5,245.2 573.5,244.6 573.6,244.0 573.6,243.4 573.6,242.8 573.7,242.2 573.7,241.5 573.7,240.9 573.7,240.3 573.8,239.7 573.8,239.1 573.8,238.5 573.9,237.9 573.9,237.3 573.9,236.7 573.9,236.1 574.0,235.5 574.0,234.9 574.0,234.3 574.0,233.7 574.1,233.0 574.1,232.4 574.1,231.8 574.2,231.2 574.2,230.6 574.2,230.0 574.2,229.4 574.3,228.8 574.3,228.2 574.3,227.6 574.4,227.0 574.4,226.4 574.4,225.8 574.4,225.2 574.5,224.6 574.5,224.0 574.5,223.4 574.5,222.8 574.6,222.2 574.6,221.6 574.6,221.0 574.7,220.4 574.7,219.8 574.7,219.2 574.7,218.6 574.8,218.0 574.8,217.4 574.8,216.8 574.8,216.1 574.9,215.5 574.9,214.9 574.9,214.3 575.0,213.7 575.0,213.1 575.0,212.5 575.0,211.9 575.1,211.3 575.1,210.7 575.1,210.1 575.1,209.5 575.2,208.9 575.2,208.3 575.2,207.7 575.3,207.1 575.3,206.5 575.3,205.9 575.3,205.3 575.4,204.7 575.4,204.1 575.4,203.5 575.5,202.9 575.5,202.3 575.5,201.7 575.5,201.0 575.6,200.4 575.6,199.8 575.6,199.2 575.7,198.5 575.7,197.9 575.7,197.3 575.8,196.7 575.8,196.0 575.8,195.4 575.9,194.8 575.9,194.2 575.9,193.5 576.0,192.9 576.0,192.3 576.0,191.7 576.1,191.0 576.1,190.4 576.1,189.8 576.2,189.2 576.2,188.6 576.2,187.8 576.3,187.1 576.3,186.3 576.3,185.6 576.4,184.9 576.4,184.1 576.4,183.4 576.5,182.7 576.5,182.0 576.5,181.4 576.6,180.7 576.6,180.0 576.6,179.4 576.7,178.7 576.7,178.1 576.7,177.4 576.7,176.8 576.8,176.2 576.8,175.6 576.8,175.0 576.8,174.2 576.8,173.4 576.9,172.6 576.9,171.9 576.9,171.1 576.9,170.4 577.0,169.7 577.0,169.0 577.0,168.2 577.0,167.6 577.1,166.9 577.1,166.2 577.1,165.5 577.2,164.9 577.2,164.2 577.2,163.6 577.3,162.9 577.3,162.3 577.4,161.4 577.4,160.5 577.5,159.7 577.6,158.9 577.7,158.1 577.7,157.3 577.8,156.6 577.9,155.9 578.0,155.2 578.1,154.5 578.2,153.8 578.3,153.1 578.4,152.4 578.4,151.7 578.5,150.9 578.6,150.2 578.7,149.4 578.8,148.7 578.8,147.9 578.9,147.2 579.0,146.4 579.0,145.7 579.1,144.9 579.2,144.2 579.2,143.5 579.3,142.7 579.4,142.0 579.5,141.2 579.5,140.5 579.6,139.7 579.7,139.0 579.8,138.2 579.9,137.4 580.0,136.7 580.1,135.9 580.2,135.2 580.3,134.4 580.5,133.7 580.6,132.9 580.7,132.1 580.8,131.4 581.0,130.6 581.1,129.9 581.2,129.1 581.3,128.4 581.5,127.6 581.6,126.9 581.7,126.1 581.8,125.3 581.9,124.6 582.1,123.8 582.2,123.1 582.3,122.3 582.4,121.6 582.5,120.8 582.7,120.1 582.8,119.3 582.9,118.6 583.0,117.8 583.1,117.1 583.3,116.3 583.4,115.6 583.5,114.8 583.6,114.1 583.7,113.3 583.8,112.6 583.9,111.8 584.0,111.1 584.1,110.3 584.2,109.5 584.3,108.7 584.4,108.0 584.5,107.2 584.6,106.5 584.7,105.8 584.8,105.0 584.9,104.4 585.1,103.7 585.2,103.1 585.3,102.5 585.6,101.4 585.9,100.5 586.2,99.6 586.5,98.8 586.8,98.1 587.1,97.3 587.5,96.6 587.8,95.8 588.1,95.0 588.5,94.2 588.8,93.5 589.2,92.7 589.5,91.9 589.9,91.2 590.2,90.4 590.6,89.6 591.0,88.8 591.3,87.9 591.7,87.1 592.0,86.2 592.4,85.4 592.7,84.6 593.1,83.8 593.4,83.1 593.7,82.4 594.0,81.8 594.3,81.2 594.6,80.6 594.9,80.1 595.2,79.7 595.5,79.3 595.8,79.0 596.1,78.8 596.4,78.8 596.7,78.8 597.0,78.9 597.3,79.0 597.6,79.1 597.8,79.2 598.1,79.3 598.3,79.4 598.6,79.5 598.8,79.6 599.0,79.8 599.2,79.9 599.4,79.9 599.6,79.9 599.9,79.7 600.2,79.4 600.5,79.0 600.9,78.5 601.3,77.9 601.7,77.3 602.1,76.7 602.4,76.1 602.8,75.6 603.2,75.1 603.5,74.5 603.9,73.9 604.2,73.4 604.6,72.9 604.9,72.4 605.3,72.0 605.6,71.8 606.0,71.7 606.3,71.8 606.6,72.0 607.0,72.2 607.4,72.5 607.7,72.7 608.1,72.8 608.4,72.8 608.8,72.6 609.1,72.4 609.4,72.0 609.8,71.6 610.1,71.2 610.5,70.8 610.9,70.4 611.2,70.0 611.6,69.6 611.9,69.2 612.3,68.7 612.7,68.3 613.0,67.9 613.4,67.6 613.7,67.3 614.0,67.2 614.3,67.2 614.5,67.2 614.7,67.3 615.0,67.5 615.2,67.8 615.4,68.1 615.6,68.5 615.9,69.0 616.2,69.6 616.5,70.3 616.8,71.2 617.2,72.1 617.5,73.0 617.9,73.9 618.3,74.8 618.7,75.6 619.1,76.3 619.6,77.0 620.1,77.7 620.6,78.4 621.0,79.1 621.5,79.8 622.0,80.5 622.4,81.2 622.8,81.9 623.2,82.7 623.5,83.4 623.9,84.2 624.2,84.9 624.5,85.8 624.9,86.7 625.2,87.8 625.4,88.4 625.6,89.0 625.7,89.7 625.9,90.4 626.1,91.1 626.2,91.9 626.4,92.6 626.6,93.4 626.8,94.2 627.0,94.9 627.1,95.7 627.3,96.4 627.5,97.1 627.7,97.8 627.8,98.4 628.0,99.0 628.4,100.0 628.7,100.8 629.0,101.6 629.4,102.2 629.8,102.9 630.1,103.6 630.4,104.5 630.8,105.5 631.1,106.6 631.3,107.2 631.5,107.8 631.7,108.5 631.8,109.1 632.0,109.8 632.2,110.4 632.4,111.1 632.5,111.8 632.7,112.6 632.9,113.4 633.1,114.2 633.2,115.0 633.4,115.6 633.5,116.2 633.6,116.8 633.7,117.5 633.8,118.1 634.0,118.8 634.1,119.5 634.2,120.2 634.3,120.9 634.4,121.7 634.5,122.5 634.7,123.3 634.8,123.9 634.8,124.5 634.9,125.1 635.0,125.7 635.1,126.3 635.2,126.9 635.3,127.5 635.4,128.1 635.5,128.7 635.6,129.3 635.6,129.9 635.7,130.5 635.8,131.3 636.0,132.1 636.1,132.8 636.2,133.6 636.3,134.3 636.4,135.0 636.5,135.7 636.6,136.3 636.7,137.0 636.8,137.7 636.9,138.3 637.0,139.0 637.1,139.6 637.2,140.2 637.4,140.8 637.5,141.4 637.6,142.0 637.7,142.7 637.8,143.3 637.9,143.9 638.0,144.5 638.1,145.1 638.1,145.7 638.2,146.3 638.3,146.9 638.4,147.5 638.5,148.1 638.6,148.7 638.7,149.4 638.8,150.0 638.9,150.6 639.0,151.3 639.1,151.9 639.1,152.6 639.2,153.2 639.3,153.8 639.4,154.5 639.4,155.1 639.5,155.8 639.6,156.4 639.6,157.1 639.7,157.7 639.8,158.4 639.9,159.0 639.9,159.7 640.0,160.3 640.1,161.0 640.2,161.7 640.2,162.3 640.3,163.0 640.4,163.7 640.5,164.3 640.6,165.0 640.7,165.7 640.8,166.4 640.9,167.1 641.0,167.7 641.1,168.4 641.2,169.1 641.4,169.8 641.5,170.5 641.6,171.1 641.7,171.8 641.9,172.5 642.0,173.2 642.1,173.9 642.2,174.6 642.4,175.3 642.5,176.0 642.6,176.7 642.8,177.5 642.9,178.2 643.0,178.9 643.2,179.7 643.3,180.4 643.4,181.2 643.6,182.0 643.7,182.8 643.8,183.4 643.9,184.0 644.0,184.7 644.1,185.3 644.2,185.9 644.3,186.6 644.4,187.2 644.5,187.8 644.6,188.5 644.7,189.2 644.8,189.8 644.9,190.5 645.0,191.2 645.1,191.9 645.2,192.6 645.3,193.2 645.4,193.9 645.5,194.6 645.6,195.3 645.7,196.0 645.9,196.7 646.0,197.4 646.1,198.1 646.2,198.7 646.3,199.4 646.4,200.1 646.5,200.8 646.6,201.5 646.7,202.2 646.9,202.8 647.0,203.5 647.1,204.2 647.2,204.9 647.3,205.5 647.5,206.2 647.6,206.9 647.7,207.5 647.8,208.2 647.9,208.9 648.1,209.5 648.2,210.2 648.3,210.9 648.4,211.6 648.6,212.2 648.7,212.9 648.8,213.6 648.9,214.2 649.1,214.9 649.2,215.6 649.3,216.2 649.5,216.9 649.6,217.6 649.7,218.2 649.9,218.9 650.0,219.6 650.2,220.2 650.3,220.9 650.5,221.6 650.6,222.3 650.8,222.9 650.9,223.6 651.1,224.3 651.2,224.9 651.4,225.6 651.6,226.3 651.7,227.0 651.9,227.6 652.1,228.3 652.3,229.0 652.4,229.7 652.6,230.4 652.8,231.1 653.0,231.7 653.2,232.4 653.4,233.1 653.5,233.8 653.7,234.5 653.9,235.2 654.1,235.9 654.3,236.6 654.5,237.2 654.7,237.9 654.9,238.6 655.1,239.3 655.4,240.0 655.6,240.6 655.8,241.3 656.0,242.0 656.2,242.6 656.4,243.2 656.7,243.9 656.9,244.5 657.1,245.1 657.3,245.8 657.6,246.4 657.8,247.0 658.0,247.6 658.3,248.2 658.5,248.8 658.8,249.4 659.0,249.9 659.3,250.5 659.5,251.1 659.7,251.7 660.0,252.2 660.3,252.8 660.5,253.4 660.8,253.9 661.0,254.5 661.3,255.0 661.6,255.5 661.8,256.1 662.2,256.8 662.6,257.5 662.9,258.2 663.3,258.9 663.7,259.5 664.1,260.2 664.4,260.9 664.8,261.5 665.2,262.2 665.6,262.8 666.0,263.5 666.4,264.1 666.8,264.7 667.2,265.3 667.6,265.9 668.0,266.5 668.5,267.1 668.9,267.7 669.3,268.2 669.7,268.8 670.2,269.4 670.6,269.9 671.0,270.4 671.5,271.0 671.9,271.5 672.4,272.0 672.8,272.5 673.3,273.0 673.8,273.5 674.2,274.0 674.7,274.5 675.2,275.0 675.6,275.5 676.1,276.0 676.6,276.4 677.1,276.9 677.6,277.4 678.1,277.8 678.6,278.3 679.2,278.7 679.7,279.2 680.2,279.6 680.8,280.0 681.3,280.5 681.9,280.9 682.4,281.3 683.0,281.7 683.5,282.1 684.1,282.5 684.6,282.9 685.2,283.3 685.8,283.6 686.3,284.0 686.8,284.4 687.4,284.7 687.9,285.0 688.4,285.4 689.2,285.8 689.9,286.3 690.6,286.7 691.3,287.1 692.0,287.5 692.6,287.8 693.3,288.1 693.9,288.4 694.5,288.7 695.1,289.0 695.7,289.2 696.3,289.5 696.9,289.7 697.5,290.0 698.2,290.2 698.8,290.5 699.4,290.7 700.0,291.0 700.6,291.3 701.2,291.5 702.3,292.0 703.3,292.5 704.4,293.0 705.0,293.2 705.5,293.5 706.2,293.7 706.8,293.9 707.5,294.2 708.3,294.5 708.8,294.6 709.4,294.8 710.0,295.0 710.7,295.2 711.3,295.4 712.0,295.6 712.8,295.8 713.5,296.0 714.3,296.2 714.9,296.4 715.5,296.6 716.1,296.7 716.8,296.9 717.4,297.1 718.1,297.2 718.7,297.4 719.4,297.6 720.0,297.7 720.7,297.9 721.4,298.1 722.1,298.2 722.7,298.4 723.4,298.5 724.1,298.7 724.8,298.9 725.4,299.0 726.1,299.2 726.8,299.3 727.4,299.5 728.1,299.6 728.7,299.7 729.4,299.9 730.0,300.0 730.6,300.1 731.2,300.2 731.9,300.4 732.5,300.5 733.1,300.6 733.8,300.7 734.4,300.8 735.0,300.9 735.6,301.0 736.2,301.1 736.9,301.2 737.5,301.3 738.1,301.4 738.8,301.5 739.4,301.6 740.0,301.7 740.6,301.7 741.2,301.8 741.9,301.9 742.5,302.0 743.1,302.1 743.8,302.2 744.4,302.3 745.0,302.3 745.6,302.4 746.2,302.5 746.9,302.6 747.5,302.7 748.1,302.8 748.8,302.8 749.4,302.9 750.0,303.0 750.6,303.1 751.2,303.2 751.9,303.3 752.5,303.3 753.1,303.4 753.8,303.5 754.4,303.6 755.0,303.7 755.6,303.7 756.2,303.8 756.9,303.9 757.5,304.0 758.1,304.1 758.8,304.1 759.4,304.2 760.0,304.3 760.6,304.4 761.2,304.4 761.9,304.5 762.5,304.6 763.1,304.7 763.8,304.7 764.4,304.8 765.0,304.9 765.6,304.9 766.2,305.0 766.9,305.1 767.5,305.1 768.1,305.2 768.8,305.3 769.4,305.3 770.0,305.4 770.6,305.5 771.2,305.5 771.9,305.6 772.5,305.6 773.1,305.7 773.8,305.8 774.4,305.8 775.0,305.9 775.6,305.9 776.2,306.0 776.9,306.0 777.5,306.1 778.1,306.1 778.8,306.2 779.4,306.2 780.0,306.3 780.6,306.3 781.2,306.4 781.9,306.4 782.5,306.4 783.1,306.5 783.8,306.5 784.4,306.6 785.0,306.6 785.6,306.7 786.2,306.7 786.9,306.8 787.5,306.8 788.1,306.9 788.8,306.9 789.4,307.0 790.0,307.0 790.6,307.0 791.2,307.1 791.9,307.1 792.5,307.2 793.1,307.2 793.8,307.3 794.4,307.3 795.0,307.4 795.6,307.4 796.2,307.5 796.9,307.5 797.5,307.6 798.1,307.6 798.8,307.6 799.4,307.7 800.0,307.7 800.6,307.8 801.2,307.8 801.9,307.9 802.5,307.9 803.1,308.0 803.8,308.0 804.4,308.0 805.0,308.1 805.6,308.1 806.2,308.2 806.9,308.2 807.5,308.2 808.1,308.3 808.8,308.3 809.4,308.4 810.0,308.4 810.6,308.4 811.2,308.5 811.9,308.5 812.5,308.5 813.1,308.6 813.8,308.6 814.4,308.7 815.0,308.7 815.6,308.7 816.2,308.8 816.9,308.8 817.5,308.8 818.1,308.9 818.8,308.9 819.4,308.9 820.0,308.9 820.6,309.0 821.2,309.0 821.9,309.0 822.5,309.1 823.1,309.1 823.8,309.1 824.4,309.2 825.0,309.2 825.6,309.2 826.2,309.2 826.9,309.3 827.5,309.3 828.1,309.3 828.8,309.3 829.4,309.4 830.0,309.4 830.6,309.4 831.2,309.4 831.9,309.5 832.5,309.5 833.1,309.5 833.8,309.5 834.4,309.6 835.0,309.6 835.6,309.6 836.2,309.6 836.9,309.6 837.5,309.7 838.1,309.7 838.8,309.7 839.4,309.7 840.0,309.7 840.6,309.7 841.2,309.8 841.9,309.8 842.5,309.8 843.1,309.8 843.8,309.8 844.4,309.8 845.0,309.9 845.6,309.9 846.2,309.9 846.9,309.9 847.5,309.9 848.1,309.9 848.8,310.0 849.4,310.0 850.0,310.0 850.6,310.0 851.2,310.0 851.9,310.1 852.5,310.1 853.1,310.1 853.7,310.1 854.3,310.1 854.9,310.2 855.5,310.2 856.1,310.2 856.8,310.2 857.4,310.2 858.0,310.3 858.6,310.3 859.2,310.3 859.8,310.3 860.4,310.3 861.0,310.4 861.7,310.4 862.3,310.4 862.9,310.4 863.5,310.4 864.2,310.4 864.8,310.5 865.4,310.5 866.1,310.5 866.7,310.5 867.4,310.5 868.0,310.6 868.7,310.6 869.3,310.6 870.0,310.6 870.7,310.6 871.4,310.6 872.2,310.6 872.9,310.7 873.5,310.7 874.1,310.7 874.8,310.7 875.4,310.7 876.0,310.7 876.7,310.7 877.4,310.7 878.0,310.8 878.7,310.8 879.4,310.8 880.0,310.8 880.7,310.8 881.4,310.8 882.0,310.8 882.7,310.8 883.3,310.8 883.9,310.8 884.6,310.9 885.2,310.9 885.8,310.9 886.6,310.9 887.3,310.9 888.0,310.9 888.7,310.9 889.3,310.9 889.9,310.9 890.5,311.0 891.1,311.0 891.8,311.0 892.4,311.0 893.0,311.0 893.6,311.0 894.2,311.0 894.9,311.1 895.1,311.1 895.0,311.1 894.8,311.1 894.5,311.2 894.3,311.2 894.2,311.2 894.2,310.6 894.3,310.0 894.3,309.4 894.4,308.7 894.4,308.1 894.5,307.5 894.5,306.9 894.5,306.3 894.6,305.7 894.6,305.0 894.7,304.4 894.7,303.8 894.7,303.2 894.8,302.6 894.8,302.0 894.9,301.3 894.9,300.7 895.0,300.1 895.0,299.5 895.5,299.6 896.1,299.7 896.7,299.9 897.5,300.0 898.4,300.2 899.4,300.4 900.4,300.6 901.4,300.8 902.5,301.0 903.6,301.3 904.2,301.4 904.8,301.6 905.5,301.7 906.1,301.9 906.8,302.0 907.4,302.2 908.2,302.3 908.9,302.5 909.6,302.6 910.4,302.7 911.2,302.9 912.0,303.0 912.9,303.1 913.7,303.2 914.4,303.3 915.0,303.4 915.6,303.5 916.3,303.6 916.9,303.6 917.6,303.7 918.3,303.8 919.0,303.9 919.7,303.9 920.4,304.0 921.1,304.1 921.8,304.2 922.5,304.2 923.2,304.3 923.9,304.4 924.6,304.5 925.3,304.5 926.0,304.6 926.6,304.7 927.3,304.7 928.0,304.8 928.7,304.9 929.3,304.9 930.0,305.0 930.6,305.1 931.3,305.1 931.9,305.2 932.5,305.2 933.2,305.3 933.8,305.4 934.4,305.4 935.1,305.5 935.7,305.5 936.4,305.6 937.0,305.7 937.7,305.7 938.3,305.8 939.0,305.8 939.7,305.9 940.4,305.9 941.1,306.0 941.8,306.0 942.5,306.1 943.3,306.1 944.0,306.2 944.6,306.2 945.2,306.3 945.9,306.3 946.5,306.4 947.2,306.4 947.9,306.4 948.6,306.5 949.3,306.5 950.0,306.6 950.7,306.6 951.5,306.6 952.2,306.7 953.0,306.7 953.7,306.8 954.5,306.8 955.2,306.8 955.9,306.9 956.6,306.9 957.3,306.9 958.1,307.0 958.7,307.0 959.3,307.0 960.0,307.1 960.6,307.1 961.4,307.1 962.1,307.2 962.8,307.2 963.6,307.3 964.4,307.3" fill="none" stroke="#5e3ca6" stroke-width="1.90" stroke-linejoin="round" stroke-linecap="round" />
<path d="M549.0,311.8L549.7,311.8 550.4,311.8 551.1,311.8 551.8,311.8 552.5,311.8 553.2,311.8 553.8,311.8 554.5,311.8 555.1,311.8 555.8,311.8 556.4,311.8 557.1,311.8 557.7,311.8 558.4,311.8 559.0,311.8 559.7,311.8 560.3,311.8 560.9,311.8 561.6,311.8 562.2,311.8 562.8,311.8 563.5,311.8 564.1,311.8 564.7,311.8 565.4,311.8 566.0,311.8 566.6,311.8 567.3,311.8 567.9,311.8 568.6,311.8 569.2,311.8 569.8,311.8 570.5,311.8 571.1,311.8 571.7,311.8 572.4,311.8 573.0,311.8 573.6,311.8 574.3,311.8 574.9,311.8 575.6,311.8 576.2,311.8 576.8,311.8 577.5,311.8 578.1,311.8 578.8,311.8 579.4,311.8 580.1,311.8 580.7,311.8 581.3,311.8 582.0,311.8 582.6,311.8 583.2,311.8 583.8,311.8 584.4,311.8 585.0,311.7 585.6,311.7 586.2,311.7 586.8,311.7 587.4,311.7 588.0,311.7 588.7,311.7 589.3,311.7 589.9,311.7 590.6,311.7 591.2,311.7 591.9,311.7 592.5,311.7 593.1,311.7 593.8,311.7 594.4,311.7 595.0,311.7 595.7,311.7 596.3,311.7 596.9,311.7 597.5,311.7 598.1,311.7 598.8,311.7 599.4,311.7 600.0,311.7 600.7,311.7 601.4,311.7 602.2,311.7 602.9,311.7 603.6,311.7 604.3,311.7 605.0,311.7 605.7,311.7 606.4,311.7 607.1,311.7 607.7,311.7 608.4,311.7 609.2,311.7 610.0,311.7 611.2,311.6 612.1,311.6 613.0,311.5 614.0,311.4 614.9,311.3 615.5,311.1 615.9,311.0 616.1,310.8 616.3,310.6 616.4,310.3 616.7,310.0 617.0,309.5 617.5,308.9 617.9,308.3 618.4,307.6 618.9,306.8 619.5,305.9 620.0,305.0 620.5,304.0 621.0,303.0 621.2,302.4 621.5,301.9 621.7,301.3 622.0,300.7 622.2,300.0 622.5,299.4 622.7,298.7 622.9,298.1 623.2,297.4 623.4,296.7 623.7,296.0 623.9,295.3 624.2,294.6 624.5,293.9 624.7,293.2 625.0,292.5 625.3,291.8 625.6,291.2 625.9,290.5 626.2,289.9 626.5,289.2 626.9,288.6 627.2,287.9 627.5,287.3 627.9,286.6 628.2,285.9 628.5,285.2 628.8,284.5 629.1,283.7 629.4,282.9 629.7,282.0 630.0,281.2 630.2,280.6 630.3,280.0 630.5,279.4 630.7,278.8 630.8,278.2 631.0,277.6 631.1,277.0 631.3,276.4 631.4,275.8 631.5,275.1 631.7,274.5 631.8,273.8 632.0,273.1 632.1,272.4 632.2,271.7 632.4,270.9 632.5,270.2 632.6,269.4 632.7,268.8 632.8,268.2 632.9,267.5 633.0,266.9 633.1,266.2 633.2,265.5 633.3,264.8 633.4,264.1 633.5,263.5 633.6,262.9 633.6,262.2 633.7,261.6 633.8,261.0 633.9,260.3 633.9,259.6 634.0,259.0 634.1,258.3 634.2,257.6 634.2,257.0 634.3,256.4 634.4,255.8 634.4,255.2 634.5,254.6 634.6,254.0 634.6,253.3 634.7,252.7 634.7,252.1 634.8,251.4 634.9,250.8 634.9,250.2 635.0,249.5 635.0,248.8 635.1,248.2 635.2,247.5 635.2,246.9 635.3,246.2 635.4,245.5 635.4,244.9 635.5,244.2 635.5,243.5 635.6,242.9 635.7,242.2 635.7,241.5 635.8,240.8 635.8,240.2 635.9,239.5 636.0,238.8 636.0,238.1 636.1,237.5 636.2,236.8 636.2,236.1 636.3,235.4 636.3,234.8 636.4,234.1 636.5,233.4 636.5,232.7 636.6,232.1 636.7,231.4 636.7,230.7 636.8,230.0 636.8,229.3 636.9,228.7 637.0,228.0 637.0,227.3 637.1,226.6 637.2,225.9 637.2,225.3 637.3,224.7 637.3,224.1 637.4,223.5 637.4,222.9 637.5,222.3 637.5,221.7 637.6,221.0 637.6,220.4 637.7,219.8 637.8,219.2 637.8,218.6 637.9,218.0 637.9,217.4 638.0,216.8 638.0,216.1 638.1,215.5 638.1,214.9 638.2,214.3 638.2,213.7 638.3,213.0 638.4,212.4 638.4,211.8 638.5,211.2 638.5,210.6 638.6,209.9 638.6,209.3 638.7,208.7 638.7,208.1 638.8,207.4 638.8,206.8 638.9,206.2 638.9,205.6 639.0,205.0 639.0,204.3 639.1,203.7 639.1,203.1 639.2,202.5 639.2,201.9 639.3,201.2 639.3,200.6 639.4,200.0 639.5,199.4 639.5,198.7 639.6,198.1 639.6,197.5 639.7,196.8 639.7,196.2 639.8,195.6 639.8,194.9 639.8,194.3 639.9,193.6 639.9,192.9 640.0,192.3 640.0,191.6 640.1,191.0 640.1,190.3 640.2,189.6 640.2,189.0 640.3,188.3 640.3,187.6 640.4,187.0 640.4,186.3 640.5,185.6 640.5,185.0 640.6,184.3 640.6,183.6 640.7,183.0 640.7,182.3 640.8,181.6 640.8,181.0 640.9,180.3 640.9,179.7 640.9,179.0 641.0,178.4 641.0,177.7 641.1,177.1 641.1,176.5 641.2,175.8 641.2,175.2 641.3,174.6 641.3,174.0 641.4,173.4 641.4,172.7 641.5,172.0 641.5,171.4 641.6,170.7 641.6,170.0 641.7,169.3 641.8,168.6 641.8,168.0 641.9,167.4 641.9,166.8 642.0,166.1 642.0,165.5 642.1,164.9 642.2,164.2 642.2,163.5 642.3,162.9 642.4,162.2 642.5,161.5 642.5,160.9 642.6,160.3 642.7,159.6 642.8,159.0 642.8,158.4 642.9,157.6 643.0,156.9 643.1,156.2 643.2,155.5 643.3,154.8 643.4,154.1 643.5,153.4 643.6,152.8 643.7,152.1 643.8,151.5 643.9,150.9 644.0,150.2 644.1,149.5 644.2,148.7 644.3,147.9 644.5,147.2 644.6,146.4 644.7,145.7 644.8,145.0 644.9,144.3 645.0,143.2 645.1,143.8 645.2,142.8 645.3,142.6 645.4,140.3 645.5,139.3 645.6,140.0 645.8,137.7 645.9,137.0 646.0,137.2 646.1,135.7 646.2,135.6 646.4,134.9 646.6,133.4 646.8,131.6 647.0,130.8 647.2,130.3 647.5,128.8 647.7,128.4 647.9,128.9 648.2,126.9 648.4,126.2 648.7,125.6 649.0,125.6 649.3,124.2 649.7,122.9 650.0,122.2 650.4,122.5 650.8,120.3 651.1,119.6 651.5,119.6 651.8,118.3 652.2,117.8 652.5,117.4 652.8,115.7 653.2,115.3 653.5,115.1 653.9,113.6 654.3,113.0 654.7,112.2 655.2,112.0 655.6,112.3 656.1,111.4 656.6,110.6 657.0,109.4 657.5,109.4 658.0,107.7 658.5,106.7 658.9,106.2 659.4,106.3 659.9,105.4 660.4,104.8 660.9,103.7 661.3,104.1 661.8,103.8 662.3,102.6 662.7,101.5 663.2,101.0 663.6,101.3 664.1,99.9 664.6,99.4 665.0,99.4 665.5,99.1 666.0,98.3 666.4,97.2 666.9,96.9 667.4,96.7 667.9,96.1 668.4,96.4 668.9,95.8 669.4,93.8 670.0,93.6 670.5,93.0 671.1,92.6 671.7,91.7 672.4,90.6 673.0,89.5 673.6,88.1 674.2,87.4 674.8,88.0 675.4,86.3 676.0,86.1 676.6,86.2 677.2,84.9 677.8,84.5 678.4,83.0 679.0,83.2 679.6,82.6 680.2,81.8 680.9,81.7 681.5,80.5 682.1,79.7 682.7,79.6 683.3,79.5 683.9,78.5 684.5,78.4 685.0,78.4 685.5,77.8 686.1,77.7 686.6,77.1 687.1,76.0 687.5,76.8 688.0,76.3 688.4,75.4 688.8,75.3 689.1,74.9 689.4,74.5 689.8,73.9 690.1,74.2 690.6,73.6 691.1,73.9 691.7,73.4 692.4,74.3 693.1,74.1 693.9,73.9 694.7,73.7 695.5,72.5 696.3,72.2 697.1,72.9 697.8,71.4 698.6,71.5 699.3,70.8 700.0,70.9 700.8,71.0 701.5,70.3 702.3,71.3 703.1,71.1 703.9,69.3 704.7,69.3 705.5,69.4 706.4,68.5 707.2,68.5 708.2,68.3 709.2,69.2 710.3,67.6 710.9,68.7 711.5,68.2 712.1,68.2 712.7,67.8 713.4,68.5 714.0,68.4 714.7,67.2 715.4,67.8 716.1,67.0 716.9,67.8 717.7,66.7 718.4,67.5 719.3,67.8 720.1,66.0 720.7,66.1 721.3,67.6 721.9,66.1 722.5,66.3 723.2,66.5 723.8,66.3 724.5,65.5 725.2,66.5 725.8,65.4 726.5,66.8 727.3,65.0 728.0,65.1 728.7,66.2 729.5,65.5 730.2,66.3 731.0,65.9 731.7,64.8 732.5,65.9 733.1,64.9 733.7,64.5 734.3,64.4 734.9,65.6 735.6,64.0 736.2,64.7 736.8,63.8 737.4,64.6 738.1,64.1 738.7,63.7 739.4,63.8 740.0,63.8 740.7,63.3 741.4,64.0 742.0,63.4 742.7,64.6 743.4,63.9 744.1,64.4 744.9,63.1 745.6,62.9 746.2,63.9 746.8,62.9 747.4,63.2 748.0,63.2 748.6,62.5 749.2,62.4 749.8,62.1 750.4,62.1 751.0,63.2 751.7,63.3 752.3,62.5 752.9,62.6 753.5,61.8 754.1,62.2 754.7,62.0 755.4,61.9 756.0,62.9 756.6,62.3 757.2,61.8 757.8,61.6 758.4,61.6 759.0,62.6 759.6,62.0 760.2,60.9 760.8,60.8 761.5,60.7 762.3,61.4 763.0,61.1 763.7,62.0 764.4,61.9 765.1,61.4 765.8,61.6 766.5,61.7 767.2,60.9 767.8,61.5 768.5,60.1 769.2,60.4 769.9,61.4 770.6,60.3 771.2,60.0 771.9,60.7 772.6,59.8 773.2,60.6 773.9,59.7 774.5,61.0 775.2,60.5 775.9,60.2 776.5,60.6 777.2,59.9 777.8,60.8 778.5,59.5 779.1,60.9 779.8,59.5 780.4,59.1 781.1,60.6 781.7,60.4 782.4,59.5 783.0,60.1 783.7,58.9 784.3,60.5 785.0,59.2 785.6,59.8 786.3,60.0 786.9,59.0 787.6,59.1 788.2,59.9 788.8,59.3 789.5,59.1 790.1,60.0 790.7,59.8 791.4,59.4 792.0,58.5 792.6,59.6 793.2,59.3 793.9,59.6 794.5,59.8 795.1,59.3 795.7,59.8 796.4,58.5 797.0,59.3 797.6,59.4 798.3,58.6 798.9,58.6 799.6,59.5 800.2,58.3 800.9,58.4 801.5,58.2 802.2,59.4 802.8,58.4 803.5,58.8 804.2,58.2 804.9,59.6 805.6,58.8 806.3,58.8 807.1,58.1 807.8,59.0 808.5,59.1 809.1,58.9 809.7,58.3 810.4,59.4 811.0,57.9 811.6,58.3 812.2,59.0 812.9,58.4 813.5,58.1 814.1,58.2 814.8,58.5 815.4,58.9 816.1,58.4 816.7,58.9 817.3,57.8 818.0,58.0 818.6,59.0 819.3,58.4 819.9,58.0 820.5,58.9 821.2,57.5 821.8,58.9 822.4,58.3 823.1,58.6 823.7,57.8 824.3,57.3 825.0,57.3 825.8,57.8 826.5,58.8 827.3,58.9 827.9,57.6 828.6,57.5 829.3,58.5 830.0,58.6 830.6,57.2 831.2,58.3 831.9,58.4 832.5,58.2 833.2,58.6 834.0,57.3 834.7,57.8 835.4,58.6 836.1,57.3 836.8,58.4 837.5,58.3 838.2,57.5 838.9,58.5 839.5,57.5 840.2,58.0 840.9,57.8 841.6,58.4 842.2,57.3 842.9,57.6 843.7,57.4 844.4,57.0 845.1,58.2 845.9,57.5 846.7,57.6 847.5,57.9 848.1,57.0 848.8,56.9 849.4,58.3 850.1,57.0 850.7,56.8 851.4,56.7 852.1,57.3 852.8,57.9 853.5,58.4 854.2,58.1 854.9,58.3 855.5,57.2 856.3,58.3 857.0,58.0 857.7,57.1 858.4,58.1 859.1,57.3 859.9,57.4 860.6,57.3 861.3,57.1 862.0,58.0 862.8,57.7 863.5,57.0 864.2,58.2 864.9,57.8 865.7,57.5 866.4,57.1 867.1,56.9 867.8,57.4 868.6,58.1 869.3,57.3 870.0,57.3 870.6,56.6 871.2,57.7 871.8,56.9 872.4,57.4 873.0,57.7 873.7,57.9 874.3,57.0 875.0,57.3 875.6,57.9 876.3,57.2 876.9,56.9 877.6,57.7 878.3,57.8 878.9,57.5 879.6,56.4 880.3,57.1 880.9,57.0 881.6,57.9 882.2,56.4 882.9,57.0 883.5,57.4 884.2,56.7 884.8,57.9 885.4,57.2 886.0,57.8 886.7,58.0 887.4,57.1 888.2,57.1 888.9,57.3 889.6,57.3 890.4,57.5 891.2,57.4 892.1,57.2 893.0,57.2 893.1,57.9 893.1,58.6 893.2,59.4 893.3,60.2 893.4,60.8 893.5,61.4 893.5,62.0 893.6,62.7 893.7,63.5 893.8,64.2 893.8,64.9 893.9,65.6 893.9,66.3 894.0,67.0 894.0,67.7 894.1,68.4 894.1,69.1 894.2,69.8 894.2,70.4 894.3,71.1 894.3,71.7 894.3,72.3 894.3,72.9 894.4,73.5 894.4,74.1 894.4,74.7 894.5,75.4 894.5,76.1 894.5,76.7 894.5,77.4 894.5,78.0 894.6,78.7 894.6,79.3 894.6,80.0 894.6,80.6 894.6,81.3 894.6,81.9 894.6,82.5 894.7,83.1 894.7,83.8 894.7,84.4 894.7,85.0 894.7,85.7 894.7,86.3 894.7,86.9 894.7,87.6 894.8,88.2 894.8,88.9 894.8,89.6 894.8,90.2 894.8,90.9 894.8,91.5 894.8,92.2 894.8,92.8 894.8,93.5 894.8,94.1 894.8,94.7 894.8,95.3 894.9,95.9 894.9,96.6 894.9,97.2 894.9,97.8 894.9,98.4 894.9,99.0 894.9,99.6 894.9,100.2 894.9,100.9 894.9,101.5 894.9,102.1 894.9,102.7 894.9,103.3 894.9,104.0 894.9,104.6 894.9,105.2 894.9,105.8 894.9,106.4 895.0,107.1 895.0,107.7 895.0,108.3 895.0,108.9 895.0,109.6 895.0,110.2 895.0,110.8 895.0,111.4 895.0,112.0 895.0,112.7 895.0,113.3 895.0,113.9 895.0,114.5 895.0,115.1 895.0,115.8 895.0,116.4 895.0,117.0 895.0,117.6 895.0,118.2 895.0,118.9 895.0,119.5 895.0,120.1 895.0,120.7 895.0,121.3 895.0,121.9 895.1,122.5 895.1,123.2 895.1,123.8 895.1,124.4 895.1,125.0 895.1,125.6 895.1,126.2 895.1,126.8 895.1,127.4 895.1,128.1 895.1,128.7 895.1,129.3 895.1,129.9 895.1,130.5 895.1,131.1 895.1,131.7 895.1,132.3 895.1,132.9 895.1,133.5 895.1,134.1 895.1,134.7 895.1,135.3 895.1,135.9 895.1,136.5 895.1,137.1 895.1,137.7 895.1,138.3 895.1,138.9 895.1,139.5 895.1,140.1 895.1,140.7 895.2,141.3 895.2,142.0 895.2,142.6 895.2,143.2 895.2,143.8 895.2,144.4 895.2,145.1 895.2,145.7 895.2,146.3 895.2,146.9 895.2,147.5 895.2,148.1 895.2,148.8 895.2,149.4 895.2,150.0 895.2,150.6 895.2,151.2 895.2,151.8 895.2,152.4 895.2,153.0 895.2,153.6 895.2,154.2 895.2,154.8 895.2,155.4 895.2,156.0 895.2,156.6 895.2,157.2 895.2,157.8 895.2,158.4 895.2,159.0 895.2,159.6 895.3,160.2 895.3,160.8 895.3,161.4 895.3,162.0 895.3,162.6 895.3,163.2 895.3,163.8 895.3,164.4 895.3,165.0 895.3,165.6 895.3,166.2 895.3,166.8 895.3,167.4 895.3,168.0 895.3,168.6 895.3,169.2 895.3,169.8 895.3,170.4 895.3,171.0 895.3,171.7 895.3,172.3 895.3,172.9 895.3,173.5 895.3,174.1 895.3,174.7 895.3,175.3 895.3,175.9 895.3,176.5 895.3,177.1 895.3,177.7 895.3,178.3 895.3,178.9 895.3,179.6 895.3,180.2 895.3,180.8 895.3,181.4 895.3,182.0 895.3,182.6 895.3,183.2 895.3,183.8 895.3,184.4 895.3,185.1 895.3,185.7 895.4,186.3 895.4,186.9 895.4,187.5 895.4,188.1 895.4,188.8 895.4,189.4 895.4,190.0 895.4,190.6 895.4,191.2 895.4,191.9 895.4,192.5 895.4,193.1 895.4,193.8 895.4,194.4 895.4,195.0 895.4,195.6 895.4,196.2 895.4,196.9 895.4,197.5 895.4,198.1 895.4,198.8 895.4,199.4 895.4,200.0 895.4,200.6 895.4,201.2 895.4,201.9 895.4,202.5 895.4,203.1 895.4,203.7 895.4,204.3 895.4,205.0 895.4,205.6 895.4,206.2 895.4,206.8 895.4,207.4 895.4,208.0 895.4,208.7 895.4,209.3 895.4,209.9 895.4,210.5 895.4,211.1 895.4,211.8 895.4,212.4 895.4,213.0 895.4,213.6 895.4,214.2 895.4,214.8 895.4,215.5 895.4,216.1 895.5,216.7 895.5,217.3 895.5,217.9 895.5,218.5 895.5,219.2 895.5,219.8 895.5,220.4 895.5,221.0 895.5,221.6 895.5,222.3 895.5,222.9 895.5,223.5 895.5,224.1 895.5,224.7 895.5,225.3 895.5,226.0 895.5,226.6 895.5,227.2 895.5,227.8 895.5,228.4 895.5,229.1 895.5,229.7 895.5,230.3 895.5,230.9 895.5,231.6 895.5,232.2 895.5,232.8 895.5,233.4 895.5,234.1 895.5,234.7 895.5,235.3 895.5,235.9 895.5,236.6 895.5,237.2 895.5,237.8 895.5,238.4 895.5,239.1 895.5,239.7 895.5,240.3 895.5,240.9 895.6,241.5 895.6,242.1 895.6,242.7 895.6,243.3 895.6,243.9 895.6,244.5 895.6,245.1 895.6,245.8 895.6,246.4 895.6,247.0 895.6,247.6 895.6,248.2 895.6,248.8 895.6,249.4 895.6,250.0 895.6,250.6 895.6,251.3 895.6,251.9 895.6,252.6 895.6,253.2 895.6,253.8 895.6,254.5 895.6,255.1 895.6,255.7 895.6,256.4 895.6,257.0 895.7,257.7 895.7,258.3 895.7,258.9 895.7,259.6 895.7,260.2 895.7,260.8 895.7,261.4 895.7,262.0 895.7,262.7 895.7,263.3 895.7,263.9 895.7,264.5 895.7,265.1 895.7,265.8 895.7,266.4 895.7,267.0 895.7,267.6 895.7,268.2 895.7,268.8 895.7,269.4 895.7,270.0 895.7,270.6 895.8,271.2 895.8,271.8 895.8,272.4 895.8,273.0 895.8,273.7 895.8,274.3 895.8,274.9 895.8,275.6 895.8,276.2 895.8,276.9 895.8,277.5 895.8,278.2 895.8,278.8 895.8,279.5 895.8,280.1 895.8,280.8 895.9,281.4 895.9,282.0 895.9,282.7 895.9,283.3 895.9,284.0 895.9,284.6 895.9,285.2 895.9,285.9 895.9,286.5 895.9,287.2 895.9,287.8 895.9,288.4 896.0,289.1 896.0,289.7 896.0,290.3 896.0,291.0 896.0,291.6 896.0,292.3 896.0,292.9 896.0,293.5 896.0,294.2 896.1,294.8 896.1,295.5 896.1,296.1 896.1,296.8 896.1,297.4 896.1,298.1 896.2,298.7 896.2,299.4 896.2,300.0 896.2,300.6 896.2,301.2 896.3,301.8 896.3,302.4 896.3,303.0 896.4,303.7 896.4,304.4 896.5,305.1 896.5,305.7 896.6,306.3 896.7,306.9 896.9,307.2 897.1,307.3 897.3,307.5 897.5,308.0 897.7,308.6 898.0,309.2 898.2,309.7 898.5,310.1 898.8,310.4 899.1,310.7 899.5,311.0 899.8,311.2 900.2,311.4 900.6,311.5 901.1,311.6 901.5,311.6 902.0,311.6 902.4,311.6 902.7,311.6 903.0,311.6" fill="none" stroke="#a93aa0" stroke-width="1.70" stroke-linejoin="round" stroke-linecap="round" />
<path d="M549.0,311.1L549.8,311.4 550.6,311.8 551.4,311.1 552.2,311.3 553.0,311.2 553.8,311.4 554.6,311.8 555.4,311.4 556.2,311.7 557.0,311.2 557.8,312.0 558.6,311.2 559.4,311.3 560.2,311.6 561.0,312.0 561.8,311.9 562.6,312.1 563.4,311.9 564.2,311.5 565.0,311.5 565.8,311.8 566.6,311.4 567.4,312.0 568.2,312.0 569.0,311.9 569.8,311.6 570.6,311.3 571.4,311.4 572.2,311.4 573.0,311.4 573.8,311.6 574.6,311.6 575.4,311.3 576.2,311.9 577.0,311.8 577.8,311.9 578.6,311.4 579.4,311.7 580.2,311.8 581.0,311.5 581.8,311.5 582.6,311.9 583.4,311.7 584.2,312.0 585.0,311.6 585.8,311.9 586.6,312.0 587.4,311.9 588.2,312.0 589.0,311.8 589.8,311.6 590.6,311.4 591.4,311.9 592.2,311.2 593.0,311.5 593.8,311.3 594.6,311.7 595.4,312.0 596.2,311.4 597.0,311.9 597.8,311.9 598.6,311.8 599.4,311.3 600.2,311.9 601.0,311.6 601.8,311.8 602.6,311.6 603.4,312.0 604.2,311.8 605.0,311.3 605.8,311.3 606.6,311.9 607.4,311.5 608.2,311.5 609.0,311.1 609.8,311.7 610.6,311.9 611.4,312.0 612.2,311.3 613.0,312.0 613.8,311.3 614.6,311.5 615.4,311.5 616.2,311.7 617.0,311.6 617.8,311.6 618.6,311.6 619.4,312.0 620.2,311.3 621.0,311.3 621.8,311.9 622.6,311.4 623.4,311.8 624.2,312.0 625.0,311.2 625.8,311.9 626.6,311.1 627.4,311.6 628.2,311.5 629.0,311.8 629.8,311.9 630.6,311.1 631.4,311.2 632.2,311.7 633.0,311.8 633.8,311.3 634.6,311.7 635.4,311.3 636.2,311.6 637.0,312.1 637.8,311.9 638.6,311.8 639.4,311.6 640.2,312.0 641.0,311.8 641.8,311.1 642.6,311.8 643.4,311.7 644.2,311.6 645.0,311.5 645.8,311.5 646.6,311.4 647.4,311.9 648.2,311.8 649.0,311.3 649.8,311.9 650.6,311.9 651.4,311.8 652.2,311.3 653.0,311.4 653.8,311.4 654.6,312.0 655.4,312.0 656.2,311.7 657.0,311.2 657.8,311.2 658.6,311.5 659.4,311.2 660.2,311.6 661.0,311.4 661.8,311.2 662.6,311.3 663.4,311.4 664.2,311.8 665.0,311.4 665.8,311.6 666.6,311.4 667.4,311.2 668.2,311.2 669.0,311.4 669.8,311.3 670.6,311.2 671.4,311.9 672.2,311.6 673.0,311.4 673.8,311.9 674.6,311.4 675.4,311.3 676.2,311.4 677.0,311.8 677.8,311.4 678.6,311.4 679.4,312.0 680.2,311.6 681.0,311.8 681.8,312.0 682.6,311.4 683.4,311.6 684.2,311.2 685.0,312.1 685.8,311.9 686.6,311.8 687.4,311.3 688.2,312.1 689.0,311.1 689.8,311.5 690.6,312.0 691.4,311.4 692.2,311.9 693.0,312.1 693.8,311.8 694.6,311.4 695.4,312.1 696.2,311.5 697.0,312.1 697.8,311.2 698.6,312.0 699.4,311.9 700.2,311.1 701.0,311.8 701.8,311.3 702.6,311.6 703.4,311.6 704.2,311.2 705.0,311.9 705.8,312.1 706.6,311.7 707.4,311.5 708.2,311.8 709.0,311.5 709.8,311.7 710.6,311.5 711.4,311.3 712.2,312.0 713.0,311.5 713.8,311.2 714.6,311.1 715.4,311.6 716.2,311.2 717.0,311.8 717.8,311.2 718.6,311.1 719.4,311.2 720.2,311.9 721.0,311.8 721.8,312.0 722.6,311.9 723.4,311.3 724.2,311.6 725.0,311.6 725.8,311.4 726.6,311.5 727.4,311.4 728.2,311.2 729.0,311.9 729.8,311.8 730.6,311.1 731.4,311.3 732.2,311.4 733.0,311.9 733.8,311.6 734.6,311.6 735.4,311.4 736.2,311.7 737.0,312.0 737.8,312.1 738.6,311.1 739.4,311.6 740.2,311.1 741.0,311.9 741.8,311.7 742.6,311.5 743.4,311.4 744.2,311.2 745.0,312.0 745.8,312.0 746.6,312.1 747.4,312.0 748.2,311.1 749.0,312.0 749.8,311.1 750.6,312.1 751.4,311.9 752.2,312.0 753.0,311.9 753.8,312.0 754.6,311.8 755.4,312.0 756.2,311.1 757.0,311.8 757.8,311.9 758.6,312.0 759.4,311.1 760.2,311.6 761.0,311.7 761.8,311.3 762.6,311.5 763.4,311.9 764.2,312.1 765.0,311.8 765.8,312.0 766.6,311.2 767.4,311.6 768.2,311.2 769.0,311.3 769.8,311.6 770.6,311.8 771.4,311.4 772.2,311.7 773.0,312.0 773.8,311.9 774.6,311.7 775.4,311.8 776.2,311.4 777.0,311.7 777.8,311.8 778.6,311.1 779.4,311.1 780.2,311.4 781.0,311.9 781.8,311.5 782.6,312.0 783.4,311.4 784.2,311.4 785.0,312.0 785.8,311.5 786.6,311.6 787.4,311.9 788.2,311.4 789.0,311.1 789.8,311.7 790.6,311.4 791.4,311.6 792.2,311.4 793.0,311.8 793.8,311.6 794.6,311.9 795.4,311.5 796.2,311.3 797.0,311.6 797.8,311.9 798.6,312.0 799.4,311.4 800.2,311.2 801.0,311.5 801.8,311.8 802.6,311.7 803.4,311.9 804.2,311.6 805.0,311.4 805.8,311.7 806.6,311.9 807.4,311.7 808.2,311.1 809.0,311.4 809.8,311.6 810.6,311.4 811.4,311.3 812.2,311.8 813.0,311.1 813.8,311.6 814.6,311.1 815.4,311.4 816.2,312.1 817.0,312.0 817.8,311.5 818.6,311.2 819.4,312.0 820.2,312.0 821.0,311.5 821.8,311.2 822.6,311.2 823.4,312.0 824.2,311.2 825.0,311.5 825.8,311.4 826.6,311.3 827.4,311.2 828.2,311.1 829.0,311.3 829.8,311.7 830.6,311.4 831.4,311.8 832.2,311.6 833.0,311.8 833.8,311.3 834.6,311.3 835.4,312.0 836.2,312.0 837.0,311.7 837.8,312.1 838.6,312.0 839.4,312.0 840.2,311.6 841.0,311.2 841.8,311.7 842.6,312.1 843.4,311.5 844.2,311.6 845.0,311.2 845.8,311.4 846.6,311.2 847.4,312.0 848.2,312.1 849.0,312.0 849.8,311.8 850.6,311.6 851.4,311.5 852.2,311.4 853.0,311.9 853.8,311.1 854.6,312.0 855.4,311.5 856.2,311.4 857.0,311.9 857.8,311.6 858.6,312.0 859.4,311.6 860.2,312.0 861.0,311.6 861.8,312.1 862.6,311.4 863.4,311.4 864.2,312.1 865.0,311.9 865.8,311.3 866.6,311.8 867.4,311.5 868.2,311.2 869.0,311.8 869.8,312.1 870.6,311.9 871.4,311.8 872.2,311.5 873.0,311.2 873.8,311.3 874.6,311.9 875.4,311.7 876.2,312.0 877.0,312.1 877.8,312.0 878.6,311.8 879.4,311.3 880.2,311.9 881.0,311.6 881.8,311.9 882.6,311.6 883.4,311.6 884.2,311.7 885.0,311.4 885.8,312.0 886.6,312.0 887.4,311.7 888.2,311.7 889.0,311.7 889.8,311.8 890.6,311.5 891.4,311.2 892.2,311.2 893.0,311.8 893.8,311.5 894.6,311.7 895.4,311.9 896.2,311.8 897.0,311.3 897.8,312.0 898.6,312.0 899.4,311.3 900.2,311.3 901.0,311.3 901.8,311.6 902.6,312.1 903.4,311.7 904.2,311.4 905.0,311.9 905.8,311.9 906.6,311.5 907.4,311.5 908.2,311.7 909.0,311.9 909.8,311.8 910.6,311.2 911.4,311.2 912.2,311.9 913.0,311.4 913.8,311.2 914.6,311.3 915.4,311.9 916.2,312.1 917.0,312.0 917.8,311.2 918.6,311.8 919.4,311.5 920.2,311.6 921.0,311.6 921.8,311.5 922.6,311.4 923.4,311.7 924.2,311.5 925.0,311.4 925.8,311.3 926.6,312.1 927.4,311.5 928.2,311.5 929.0,311.5 929.8,311.7 930.6,311.3 931.4,311.2 932.2,311.9 933.0,311.9 933.8,311.3 934.6,311.8 935.4,311.4 936.2,311.5 937.0,312.1 937.8,311.8 938.6,312.0 939.4,311.3 940.2,311.6 941.0,311.3 941.8,312.0 942.6,311.1 943.4,311.9 944.2,311.8 945.0,312.0 945.8,311.9 946.6,311.3 947.4,311.7 948.2,311.8 949.0,312.1 949.8,311.7 950.6,311.4 951.4,311.9 952.2,311.1 953.0,311.7 953.8,311.7 954.6,311.4 955.4,311.5 956.2,312.0 957.0,312.1 957.8,311.2 958.6,312.0 959.4,311.5 960.2,311.6 961.0,311.8 961.8,311.7 962.6,311.7 963.4,311.6 964.2,311.4" fill="none" stroke="#2a3a8a" stroke-width="1.50" stroke-linejoin="round" stroke-linecap="round" />
<path d="M549.0,311.4L549.8,311.6 550.6,311.5 551.4,311.9 552.2,311.3 553.0,311.5 553.8,311.4 554.6,311.8 555.4,311.4 556.2,311.8 557.0,311.2 557.8,311.6 558.6,311.9 559.4,311.8 560.2,311.4 561.0,311.2 561.8,311.8 562.6,312.0 563.4,311.8 564.2,311.4 565.0,311.8 565.8,311.8 566.6,311.5 567.4,311.7 568.2,311.5 569.0,311.7 569.8,311.8 570.6,311.3 571.4,311.9 572.2,312.0 573.0,311.7 573.8,311.8 574.6,311.2 575.4,311.3 576.2,311.9 577.0,311.8 577.8,311.6 578.6,311.3 579.4,311.6 580.2,311.6 581.0,311.4 581.8,311.2 582.6,311.6 583.4,311.3 584.2,311.2 585.0,311.7 585.8,311.9 586.6,311.3 587.4,311.3 588.2,311.6 589.0,311.4 589.8,311.8 590.6,311.7 591.4,311.6 592.2,312.0 593.0,311.8 593.8,311.4 594.6,311.3 595.4,311.6 596.2,311.5 597.0,311.9 597.8,311.3 598.6,311.5 599.4,311.4 600.2,311.8 601.0,311.9 601.8,311.8 602.6,311.3 603.4,311.9 604.2,311.2 605.0,311.5 605.8,312.0 606.6,312.0 607.4,311.2 608.2,311.7 609.0,311.3 609.8,311.7 610.6,311.4 611.4,311.3 612.2,311.6 613.0,311.7 613.8,311.6 614.6,311.6 615.4,311.5 616.2,311.9 617.0,311.4 617.8,311.9 618.6,311.7 619.4,311.8 620.2,311.2 621.0,311.7 621.8,312.0 622.6,311.6 623.4,311.9 624.2,311.6 625.0,311.4 625.8,311.8 626.6,311.8 627.4,311.2 628.2,311.8 629.0,311.6 629.8,311.9 630.6,311.5 631.4,311.4 632.2,311.9 633.0,311.7 633.8,311.9 634.6,311.2 635.4,311.8 636.2,311.8 637.0,311.5 637.8,311.4 638.6,311.3 639.4,311.9 640.2,311.8 641.0,311.9 641.8,311.4 642.6,311.7 643.4,311.5 644.2,311.6 645.0,311.7 645.8,311.2 646.6,311.9 647.4,311.5 648.2,311.6 649.0,311.2 649.8,311.2 650.6,311.9 651.4,311.4 652.2,311.8 653.0,311.5 653.8,311.8 654.6,311.7 655.4,311.9 656.2,311.7 657.0,311.2 657.8,311.3 658.6,311.8 659.4,311.6 660.2,311.7 661.0,311.9 661.8,311.6 662.6,311.9 663.4,311.7 664.2,311.6 665.0,311.4 665.8,311.9 666.6,311.6 667.4,311.2 668.2,311.3 669.0,311.9 669.8,311.2 670.6,311.6 671.4,311.3 672.2,311.6 673.0,311.8 673.8,311.2 674.6,312.0 675.4,311.5 676.2,312.0 677.0,311.5 677.8,311.7 678.6,311.4 679.4,311.3 680.2,311.6 681.0,312.0 681.8,311.6 682.6,311.5 683.4,311.4 684.2,311.2 685.0,311.6 685.8,311.6 686.6,311.9 687.4,311.5 688.2,311.4 689.0,312.0 689.8,311.8 690.6,311.3 691.4,311.5 692.2,311.3 693.0,311.8 693.8,311.4 694.6,311.5 695.4,311.7 696.2,311.9 697.0,311.8 697.8,311.5 698.6,311.8 699.4,311.5 700.2,311.7 701.0,311.3 701.8,311.9 702.6,311.9 703.4,311.6 704.2,311.4 705.0,311.2 705.8,311.6 706.6,311.6 707.4,311.2 708.2,311.7 709.0,312.0 709.8,311.8 710.6,311.7 711.4,311.8 712.2,311.8 713.0,311.6 713.8,311.5 714.6,311.7 715.4,311.3 716.2,311.4 717.0,311.3 717.8,312.0 718.6,311.8 719.4,311.6 720.2,311.3 721.0,311.2 721.8,311.7 722.6,311.6 723.4,312.0 724.2,311.6 725.0,311.3 725.8,311.7 726.6,311.2 727.4,311.6 728.2,311.9 729.0,311.5 729.8,311.6 730.6,311.9 731.4,311.8 732.2,311.6 733.0,311.3 733.8,311.8 734.6,311.5 735.4,311.9 736.2,311.7 737.0,311.6 737.8,311.7 738.6,311.3 739.4,311.5 740.2,312.0 741.0,311.6 741.8,311.6 742.6,311.4 743.4,311.7 744.2,311.4 745.0,312.0 745.8,311.4 746.6,311.7 747.4,311.8 748.2,311.8 749.0,311.8 749.8,311.7 750.6,311.3 751.4,311.7 752.2,312.0 753.0,311.3 753.8,311.9 754.6,311.5 755.4,311.6 756.2,311.5 757.0,311.7 757.8,311.6 758.6,311.6 759.4,311.6 760.2,311.8 761.0,311.8 761.8,311.5 762.6,311.3 763.4,311.6 764.2,311.4 765.0,311.7 765.8,311.9 766.6,311.3 767.4,311.3 768.2,311.3 769.0,311.5 769.8,311.3 770.6,311.3 771.4,311.7 772.2,311.7 773.0,311.5 773.8,311.7 774.6,311.3 775.4,311.7 776.2,312.0 777.0,311.9 777.8,311.9 778.6,311.4 779.4,312.0 780.2,311.5 781.0,311.3 781.8,311.3 782.6,311.6 783.4,311.7 784.2,311.2 785.0,311.7 785.8,311.3 786.6,311.3 787.4,311.4 788.2,311.7 789.0,311.8 789.8,311.8 790.6,311.7 791.4,311.5 792.2,311.6 793.0,311.7 793.8,311.5 794.6,311.9 795.4,311.8 796.2,311.4 797.0,311.4 797.8,311.7 798.6,311.3 799.4,312.0 800.2,312.0 801.0,311.2 801.8,311.3 802.6,311.9 803.4,311.2 804.2,311.3 805.0,311.6 805.8,311.4 806.6,311.5 807.4,311.5 808.2,311.2 809.0,311.5 809.8,311.7 810.6,311.6 811.4,311.7 812.2,311.5 813.0,311.6 813.8,311.3 814.6,311.6 815.4,311.6 816.2,311.7 817.0,311.5 817.8,312.0 818.6,311.2 819.4,312.0 820.2,311.6 821.0,311.7 821.8,311.6 822.6,311.6 823.4,311.7 824.2,311.3 825.0,311.4 825.8,311.6 826.6,311.5 827.4,311.5 828.2,311.7 829.0,311.5 829.8,311.4 830.6,311.4 831.4,311.4 832.2,311.5 833.0,311.4 833.8,311.7 834.6,311.8 835.4,311.3 836.2,311.7 837.0,311.9 837.8,311.8 838.6,311.3 839.4,311.3 840.2,311.4 841.0,311.5 841.8,311.3 842.6,311.7 843.4,311.6 844.2,311.3 845.0,311.3 845.8,311.6 846.6,311.6 847.4,311.8 848.2,311.9 849.0,311.5 849.8,311.6 850.6,311.8 851.4,311.6 852.2,311.6 853.0,312.0 853.8,311.5 854.6,312.0 855.4,311.3 856.2,311.9 857.0,311.3 857.8,311.7 858.6,311.8 859.4,311.9 860.2,311.5 861.0,311.8 861.8,311.5 862.6,312.0 863.4,311.4 864.2,311.7 865.0,311.5 865.8,311.9 866.6,311.9 867.4,311.9 868.2,311.6 869.0,311.4 869.8,311.6 870.6,311.7 871.4,311.2 872.2,311.3 873.0,311.2 873.8,311.8 874.6,311.9 875.4,311.2 876.2,312.0 877.0,311.5 877.8,311.2 878.6,311.3 879.4,311.8 880.2,311.6 881.0,311.4 881.8,311.6 882.6,311.4 883.4,311.7 884.2,311.2 885.0,311.9 885.8,311.4 886.6,311.8 887.4,311.8 888.2,311.9 889.0,311.7 889.8,311.6 890.6,311.9 891.4,312.0 892.2,311.8 893.0,311.6 893.8,311.5 894.6,311.6 895.4,311.6 896.2,311.2 897.0,311.7 897.8,311.9 898.6,311.3 899.4,311.9 900.2,311.9 901.0,311.7 901.8,311.8 902.6,311.7 903.4,311.2 904.2,311.2 905.0,311.8 905.8,311.7 906.6,311.6 907.4,311.3 908.2,311.8 909.0,311.4 909.8,311.8 910.6,311.3 911.4,311.2 912.2,311.9 913.0,311.4 913.8,311.4 914.6,311.4 915.4,311.6 916.2,311.9 917.0,311.8 917.8,311.2 918.6,311.9 919.4,311.7 920.2,312.0 921.0,311.3 921.8,311.2 922.6,312.0 923.4,311.9 924.2,311.3 925.0,311.9 925.8,311.2 926.6,311.8 927.4,311.5 928.2,311.4 929.0,311.8 929.8,311.7 930.6,311.3 931.4,311.3 932.2,311.8 933.0,311.4 933.8,311.3 934.6,311.9 935.4,311.4 936.2,311.9 937.0,311.3 937.8,311.7 938.6,311.6 939.4,311.6 940.2,311.2 941.0,311.6 941.8,311.2 942.6,311.8 943.4,311.6 944.2,311.5 945.0,311.9 945.8,312.0 946.6,311.4 947.4,311.5 948.2,311.8 949.0,311.9 949.8,311.7 950.6,311.3 951.4,311.5 952.2,311.9 953.0,311.7 953.8,311.8 954.6,311.6 955.4,311.3 956.2,312.0 957.0,311.5 957.8,311.9 958.6,311.5 959.4,311.9 960.2,311.8 961.0,311.8 961.8,311.8 962.6,311.7 963.4,311.9 964.2,311.8" fill="none" stroke="#247e3c" stroke-width="1.60" stroke-linejoin="round" stroke-linecap="round" />
<path d="M549.0,311.8L550.1,311.8 550.9,311.8 551.7,311.8 552.4,311.8 553.0,311.7 553.6,311.7 554.3,311.7 555.0,311.7 555.7,311.7 556.4,311.7 557.1,311.7 557.8,311.7 558.4,311.7 559.1,311.8 559.7,311.8 560.5,311.9 561.3,311.9 561.9,312.1 562.5,312.2 563.2,312.6 563.6,313.2 563.8,313.9 563.8,314.6 563.7,315.4 563.5,316.0 563.4,316.6 563.4,317.0 563.4,316.4 563.4,315.8 563.4,315.2 563.4,314.6 563.4,314.0 563.4,313.4 563.4,312.7 563.4,312.1 563.4,311.5 563.4,310.9 563.4,310.3 563.4,309.7 563.5,309.1 563.5,308.5 563.5,307.9 563.5,307.3 563.5,306.7 563.5,306.1 563.5,305.4 563.5,304.8 563.5,304.2 563.5,303.6 563.5,303.0 563.5,302.4 563.5,301.8 563.5,301.2 563.5,300.6 563.5,300.0 563.5,299.4 563.5,298.7 563.5,298.1 563.5,297.5 563.5,296.9 563.5,296.3 563.5,295.6 563.5,295.0 563.5,294.4 563.6,293.8 563.6,293.2 563.6,292.6 563.6,291.9 563.6,291.3 563.6,290.7 563.6,290.1 563.6,289.5 563.6,288.8 563.6,288.2 563.6,287.6 563.6,287.0 563.6,286.4 563.6,285.8 563.6,285.2 563.6,284.5 563.6,283.9 563.6,283.3 563.6,282.7 563.6,282.1 563.6,281.5 563.6,280.9 563.6,280.3 563.6,279.7 563.6,279.1 563.6,278.5 563.7,277.8 563.7,277.2 563.7,276.6 563.7,276.0 563.7,275.4 563.7,274.8 563.7,274.2 563.7,273.6 563.7,273.0 563.7,272.4 563.7,271.8 563.7,271.1 563.7,270.5 563.7,269.9 563.7,269.3 563.7,268.7 563.7,268.1 563.7,267.5 563.7,266.9 563.7,266.3 563.7,265.7 563.7,265.0 563.7,264.4 563.7,263.8 563.8,263.2 563.8,262.6 563.8,262.0 563.8,261.4 563.8,260.8 563.8,260.2 563.8,259.6 563.8,258.9 563.8,258.3 563.8,257.7 563.8,257.1 563.8,256.4 563.8,255.8 563.8,255.2 563.8,254.6 563.8,254.0 563.8,253.3 563.8,252.7 563.8,252.1 563.8,251.5 563.8,250.9 563.8,250.2 563.8,249.6 563.8,249.0 563.9,248.4 563.9,247.8 563.9,247.2 563.9,246.5 563.9,245.9 563.9,245.3 563.9,244.7 563.9,244.1 563.9,243.5 563.9,242.9 563.9,242.3 563.9,241.6 563.9,241.0 563.9,240.4 563.9,239.8 563.9,239.2 563.9,238.6 563.9,238.0 563.9,237.4 563.9,236.8 563.9,236.1 564.0,235.5 564.0,234.9 564.0,234.3 564.0,233.7 564.0,233.1 564.0,232.5 564.0,231.8 564.0,231.2 564.0,230.6 564.0,230.0 564.0,229.4 564.0,228.8 564.0,228.2 564.0,227.6 564.0,226.9 564.0,226.3 564.1,225.7 564.1,225.0 564.1,224.3 564.1,223.6 564.1,223.2 564.2,223.9 564.2,224.6 564.2,225.3 564.2,226.1 564.3,226.9 564.3,227.6 564.3,228.2 564.3,228.7 564.3,229.6 564.3,230.5 564.3,231.1 564.3,231.7 564.4,232.3 564.4,232.9 564.4,233.7 564.4,234.4 564.4,235.1 564.4,235.9 564.4,236.5 564.4,237.2 564.4,237.8 564.5,238.5 564.5,239.1 564.5,239.8 564.5,240.4 564.5,241.1 564.5,241.7 564.5,242.4 564.5,243.1 564.5,243.7 564.6,244.3 564.6,245.0 564.6,245.6 564.6,246.4 564.6,247.1 564.6,247.8 564.6,248.6 564.7,249.2 564.7,249.8 564.7,250.4 564.7,251.0 564.7,251.7 564.7,252.4 564.8,253.1 564.8,253.7 564.8,254.4 564.8,255.0 564.9,255.9 564.9,256.8 564.9,257.6 565.0,258.4 565.0,259.1 565.0,259.8 565.1,260.5 565.1,261.1 565.2,262.1 565.2,263.0 565.4,263.0 565.5,263.0 565.6,262.9 565.9,263.1 566.2,263.1 566.6,263.0 567.2,263.5 568.0,262.9 569.0,262.8 569.7,263.6 570.3,263.3 571.0,263.2 571.7,263.6 572.5,263.1 573.2,262.8 574.1,263.0 574.9,262.9 575.7,263.5 576.6,263.4 577.4,263.1 578.3,263.0 579.1,263.1 580.0,263.3 580.9,262.9 581.8,263.2 582.4,262.8 583.0,262.8 583.7,262.7 584.3,263.4 585.0,262.7 585.6,263.1 586.3,263.2 587.0,263.4 587.6,263.2 588.3,263.0 588.9,262.8 589.6,262.8 590.2,262.6 590.9,263.0 591.5,262.7 592.1,262.8 592.7,263.2 593.3,262.8 594.2,262.8 595.0,263.1 595.8,262.5 596.5,262.9 597.2,263.1 597.9,263.1 598.6,262.7 599.2,262.8 599.9,262.7 600.5,263.0 601.7,262.7 602.8,263.3 603.9,263.1 605.0,262.7 606.0,263.0 607.0,263.3 608.0,262.9 608.9,263.2 609.7,262.9 610.5,263.5 611.3,263.4 612.0,263.5 612.6,263.8 613.2,264.0 613.7,264.3 614.2,264.6 614.6,264.9 615.1,265.2 615.5,265.6 616.0,266.0 616.5,266.4 617.0,266.9 617.5,267.3 618.0,267.8 618.5,268.4 619.0,268.9 619.5,269.4 620.0,270.0 620.5,270.6 621.0,271.2 621.5,271.8 622.0,272.4 622.5,273.0 623.0,273.7 623.5,274.3 624.0,275.0 624.5,275.7 625.0,276.3 625.5,277.0 626.0,277.7 626.5,278.3 627.0,279.0 627.5,279.8 628.0,280.5 628.5,281.3 629.0,282.1 629.5,282.9 630.1,283.7 630.6,284.6 631.1,285.4 631.5,286.2 632.0,287.0 632.4,287.8 632.8,288.5 633.2,289.2 633.6,289.9 633.9,290.7 634.3,291.4 634.6,292.2 635.0,293.0 635.4,293.9 635.8,294.8 636.2,295.8 636.6,296.8 636.9,297.8 637.3,298.8 637.7,299.7 638.0,300.5 638.3,301.2 638.6,301.9 638.8,302.6 639.1,303.2 639.3,303.8 639.5,304.3 639.8,304.9 640.0,305.5 640.2,306.1 640.5,306.7 640.7,307.4 640.9,308.0 641.1,308.5 641.3,309.1 641.6,309.6 641.8,310.0 642.0,310.3 642.2,310.6 642.4,310.9 642.6,311.1 642.9,311.2 643.2,311.4 643.5,311.5 644.0,311.6 644.6,311.7 645.4,311.7 646.2,311.8 647.1,311.8 648.0,311.7 648.8,311.7 649.5,311.7 650.0,311.7" fill="none" stroke="#1b807c" stroke-width="1.90" stroke-linejoin="round" stroke-linecap="round" />
<path d="M893.4,311.6 H965.5" fill="none" stroke="#262626" stroke-width="1.7" stroke-dasharray="4.95 3.42" stroke-dashoffset="1.5"/>
<path d="M755.2,62.3 L756.0,69.7 L756.8,62.3" fill="none" stroke="#a93aa0" stroke-width="1.2" stroke-linejoin="round"/>
<path d="M774.9,60.2 L775.7,71.3 L776.5,60.2" fill="none" stroke="#a93aa0" stroke-width="1.2" stroke-linejoin="round"/>
<path d="M788.5,59.1 L789.3,72.5 L790.1,59.1" fill="none" stroke="#a93aa0" stroke-width="1.2" stroke-linejoin="round"/>
<path d="M782.9,60.5 L783.7,64.0 L784.5,60.5" fill="none" stroke="#a93aa0" stroke-width="1.2" stroke-linejoin="round"/>
<path d="M792.1,59.3 L792.9,64.8 L793.7,59.3" fill="none" stroke="#a93aa0" stroke-width="1.2" stroke-linejoin="round"/>
<path d="M768.9,61.4 L769.7,53.6 L770.5,61.4" fill="none" stroke="#a93aa0" stroke-width="1.2" stroke-linejoin="round"/>
<path d="M755.6,62.3 L756.4,59.2 L757.2,62.3" fill="none" stroke="#a93aa0" stroke-width="1.2" stroke-linejoin="round"/>
<path d="M785.7,59.0 L786.5,58.0 L787.3,59.0" fill="none" stroke="#a93aa0" stroke-width="1.2" stroke-linejoin="round"/>
<path d="M835.2,57.3 L836.0,64.0 L836.8,57.3" fill="none" stroke="#a93aa0" stroke-width="1.2" stroke-linejoin="round"/>
<path d="M803.8,59.6 L804.6,54.0 L805.4,59.6" fill="none" stroke="#a93aa0" stroke-width="1.2" stroke-linejoin="round"/>
<path d="M821.5,58.3 L822.3,54.0 L823.1,58.3" fill="none" stroke="#a93aa0" stroke-width="1.2" stroke-linejoin="round"/>
<path d="M849.5,56.8 L850.3,51.4 L851.1,56.8" fill="none" stroke="#a93aa0" stroke-width="1.2" stroke-linejoin="round"/>
<path d="M857.5,58.1 L858.3,52.0 L859.1,58.1" fill="none" stroke="#a93aa0" stroke-width="1.2" stroke-linejoin="round"/>
<path d="M869.5,56.6 L870.3,51.4 L871.1,56.6" fill="none" stroke="#a93aa0" stroke-width="1.2" stroke-linejoin="round"/>
<path d="M845.5,57.6 L846.3,63.1 L847.1,57.6" fill="none" stroke="#a93aa0" stroke-width="1.2" stroke-linejoin="round"/>
<path d="M854.3,57.2 L855.1,60.0 L855.9,57.2" fill="none" stroke="#a93aa0" stroke-width="1.2" stroke-linejoin="round"/>
<path d="M877.2,57.8 L878.0,61.0 L878.8,57.8" fill="none" stroke="#a93aa0" stroke-width="1.2" stroke-linejoin="round"/>
<path d="M886.6,57.1 L887.4,60.0 L888.2,57.1" fill="none" stroke="#a93aa0" stroke-width="1.2" stroke-linejoin="round"/>
<path d="M829.2,58.6 L830.0,55.5 L830.8,58.6" fill="none" stroke="#a93aa0" stroke-width="1.2" stroke-linejoin="round"/>
<path d="M814.2,58.9 L815.0,60.5 L815.8,58.9" fill="none" stroke="#a93aa0" stroke-width="1.2" stroke-linejoin="round"/>
<path d="M811.2,59.0 L812.0,55.2 L812.8,59.0" fill="none" stroke="#a93aa0" stroke-width="1.2" stroke-linejoin="round"/>
<path d="M729.2,66.3 L730.0,63.0 L730.8,66.3" fill="none" stroke="#a93aa0" stroke-width="1.2" stroke-linejoin="round"/>
<path d="M711.2,68.2 L712.0,64.5 L712.8,68.2" fill="none" stroke="#a93aa0" stroke-width="1.2" stroke-linejoin="round"/>
<path d="M689.2,74.2 L690.0,70.0 L690.8,74.2" fill="none" stroke="#a93aa0" stroke-width="1.2" stroke-linejoin="round"/>
<path d="M683.1,78.5 L683.9,72.0 L684.7,78.5" fill="none" stroke="#a93aa0" stroke-width="1.2" stroke-linejoin="round"/>
<path d="M648.8,122.9 L649.6,134.3 L650.4,122.9" fill="none" stroke="#a93aa0" stroke-width="1.2" stroke-linejoin="round"/>
<path d="M663.2,99.9 L664.0,93.5 L664.8,99.9" fill="none" stroke="#a93aa0" stroke-width="1.2" stroke-linejoin="round"/>
<path d="M739.2,63.8 L740.0,61.5 L740.8,63.8" fill="none" stroke="#a93aa0" stroke-width="1.2" stroke-linejoin="round"/>
<path d="M747.2,62.5 L748.0,59.5 L748.8,62.5" fill="none" stroke="#a93aa0" stroke-width="1.2" stroke-linejoin="round"/>
<path d="M699.2,70.9 L700.0,67.5 L700.8,70.9" fill="none" stroke="#a93aa0" stroke-width="1.2" stroke-linejoin="round"/>
<path d="M719.2,66.0 L720.0,63.7 L720.8,66.0" fill="none" stroke="#a93aa0" stroke-width="1.2" stroke-linejoin="round"/>
<path d="M763.2,61.9 L764.0,60.0 L764.8,61.9" fill="none" stroke="#a93aa0" stroke-width="1.2" stroke-linejoin="round"/>
<text x="933.0" y="46.8" class="big">B</text>
<text x="567.00" y="43.05" style="font-size:17.20px;fill:#111;stroke:#111;stroke-width:0.35px">H</text>
<text x="578.65" y="47.55" style="font-size:10.50px;fill:#111;stroke:#111;stroke-width:0.35px">2</text>
<text x="587.90" y="47.90" style="font-size:10.20px;font-weight:bold;fill:#111;stroke:#111;stroke-width:0.10px">IN</text>
<text x="586.80" y="138.25" style="font-size:17.20px;fill:#5e3ca6;stroke:#5e3ca6;stroke-width:0.35px">H</text>
<text x="598.30" y="143.10" style="font-size:10.50px;fill:#5e3ca6;stroke:#5e3ca6;stroke-width:0.35px">2</text>
<text x="604.05" y="138.25" style="font-size:17.20px;fill:#5e3ca6;stroke:#5e3ca6;stroke-width:0.35px">O</text>
<text x="668.40" y="122.35" style="font-size:17.20px;fill:#a93aa0;stroke:#a93aa0;stroke-width:0.35px">H</text>
<text x="680.90" y="127.70" style="font-size:10.50px;fill:#a93aa0;stroke:#a93aa0;stroke-width:0.35px">2</text>
<text x="588.05" y="251.90" style="font-size:17.20px;fill:#1b807c;stroke:#1b807c;stroke-width:0.35px">N</text>
<text x="600.00" y="256.95" style="font-size:10.50px;fill:#1b807c;stroke:#1b807c;stroke-width:0.35px">2</text>
<text x="588.20" y="299.10" style="font-size:17.20px;fill:#e8892a;stroke:#e8892a;stroke-width:0.35px">NH</text>
<text x="612.15" y="304.60" style="font-size:10.50px;fill:#e8892a;stroke:#e8892a;stroke-width:0.35px">3</text>
</svg>
</body></html>
